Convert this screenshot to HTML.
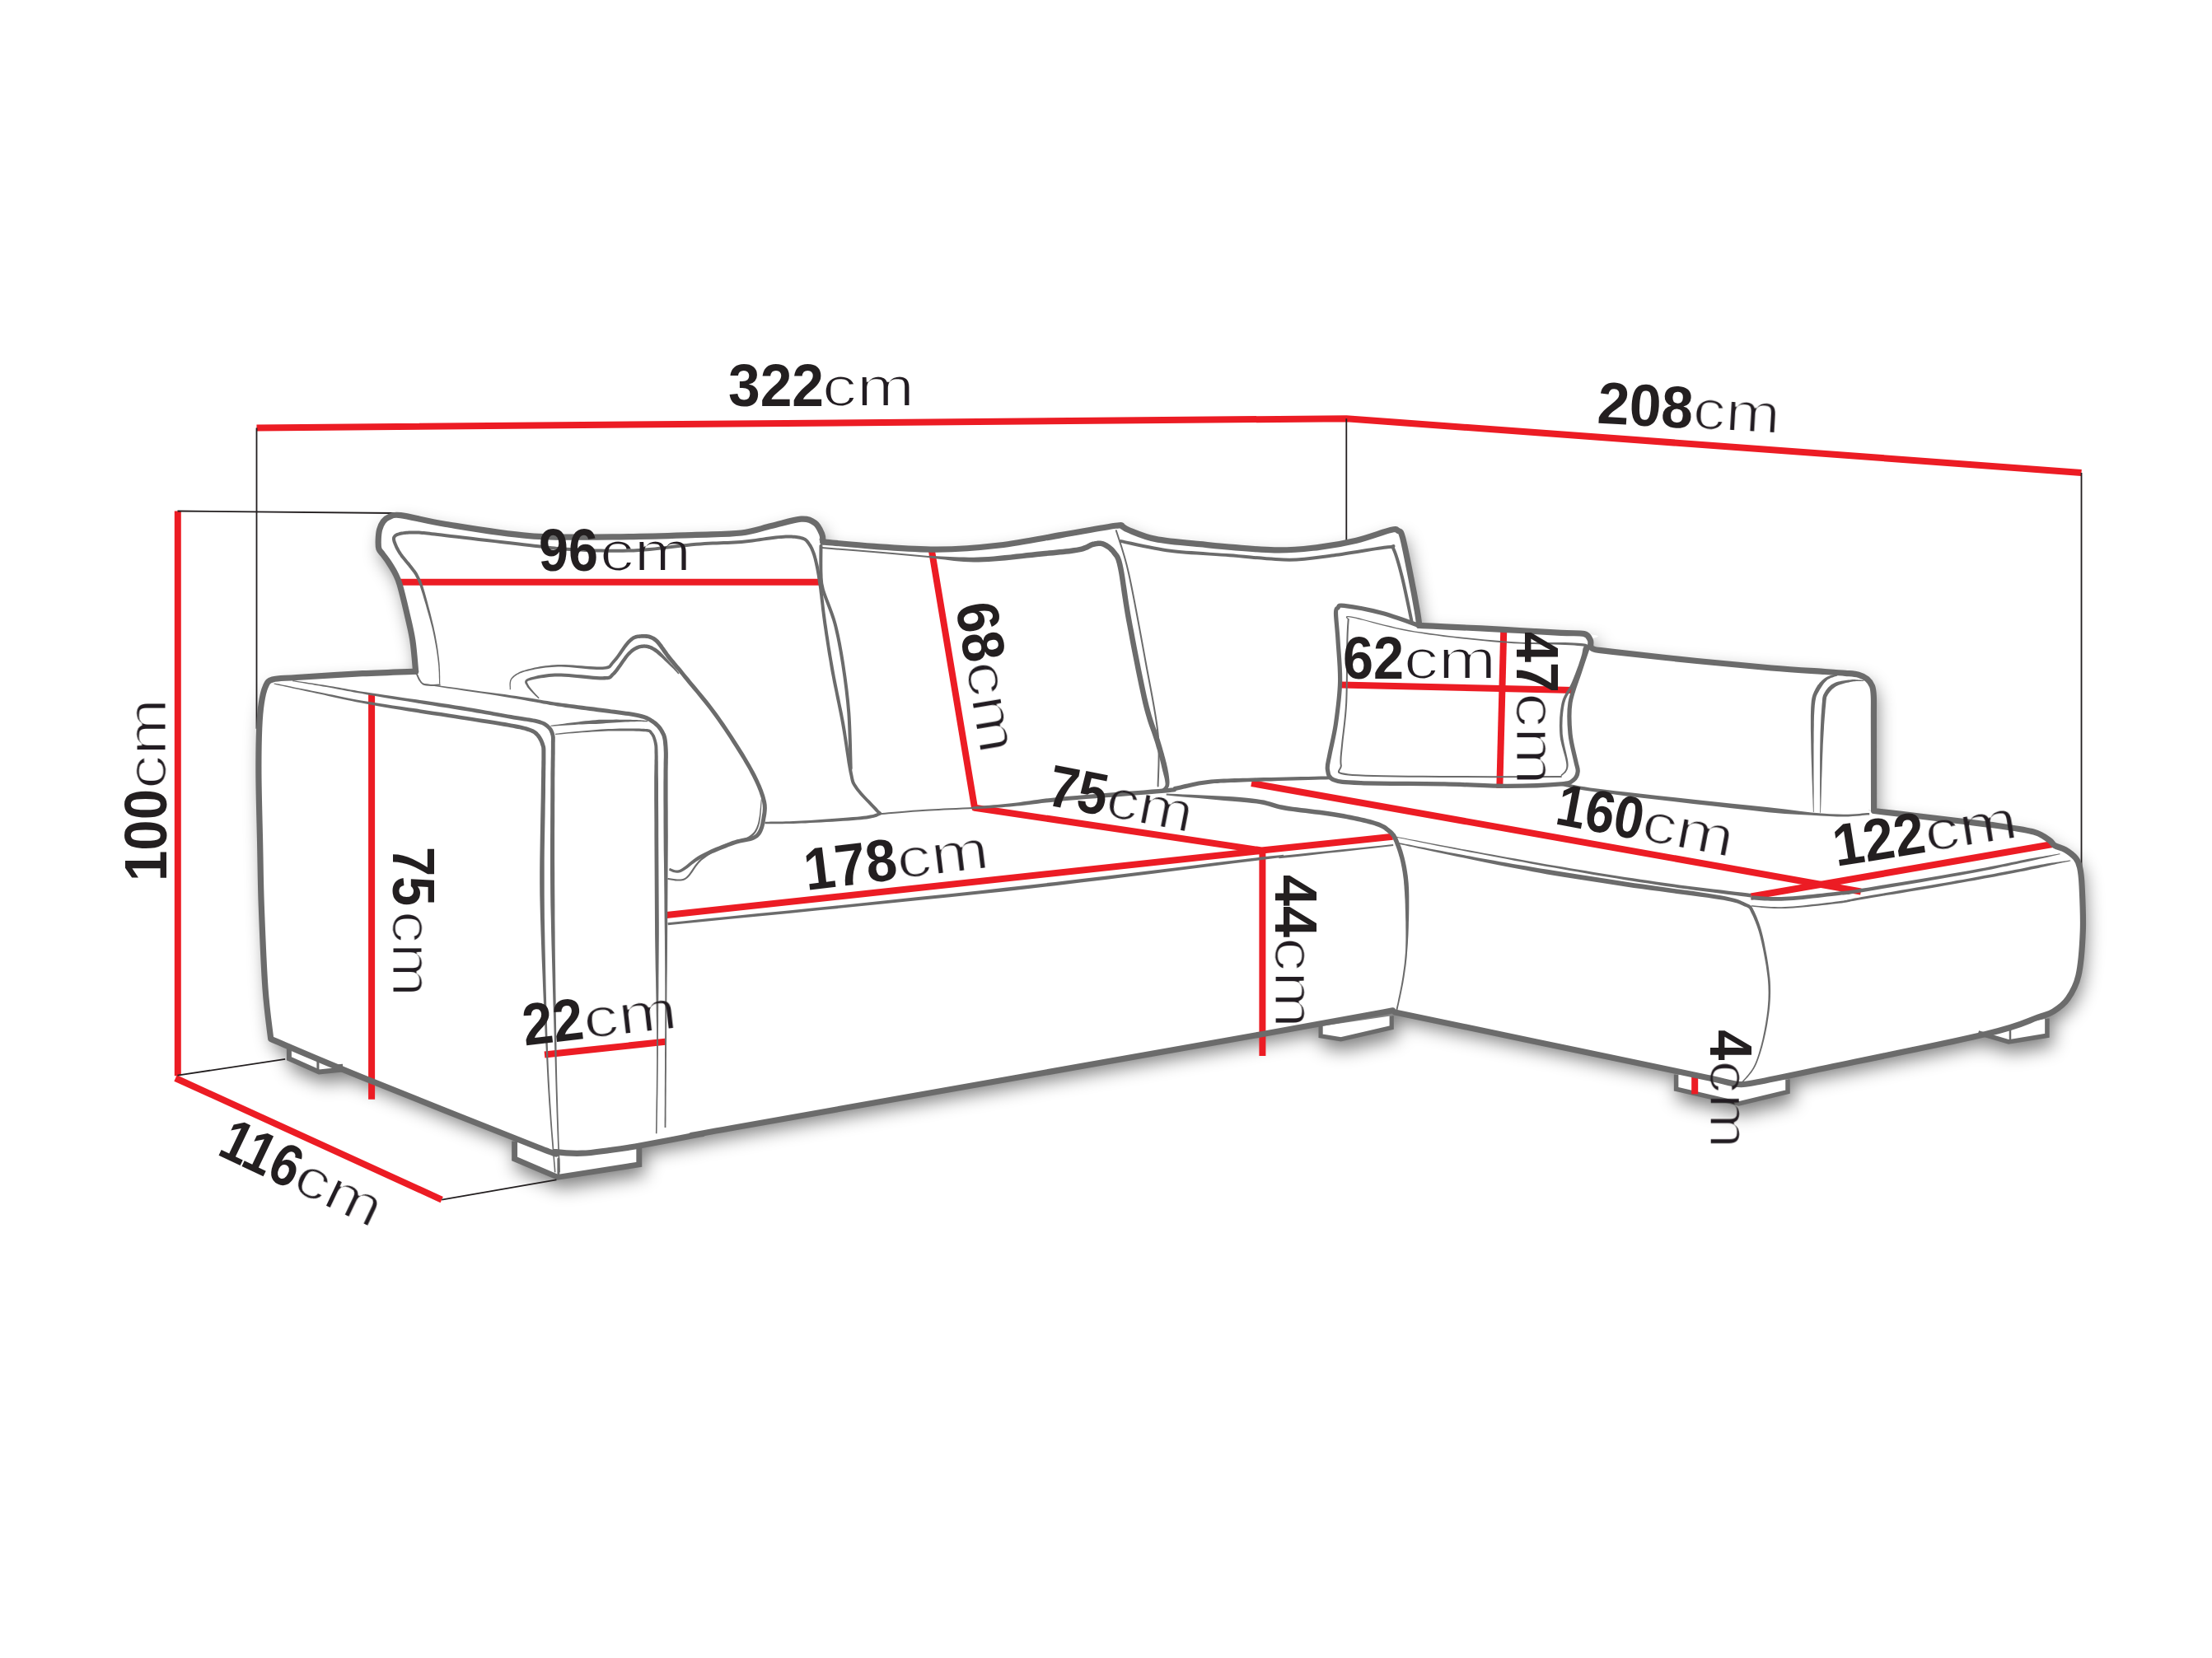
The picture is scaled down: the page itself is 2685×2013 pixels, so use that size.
<!DOCTYPE html>
<html><head><meta charset="utf-8"><style>
html,body{margin:0;padding:0;background:#fff;width:2685px;height:2013px;overflow:hidden}
svg{display:block}
text{font-family:"Liberation Sans",sans-serif;fill:#231f20}
line,polyline{fill:none;stroke-linejoin:round}
path{stroke-linejoin:round}
path{stroke-linecap:round}
</style></head><body>
<svg width="2685" height="2013" viewBox="0 0 2685 2013">
<rect width="2685" height="2013" fill="#fff"/>
<defs><filter id="thin" x="-5%" y="-5%" width="110%" height="110%"><feMorphology operator="erode" radius="0.70"/></filter></defs>
<defs><filter id="sh" x="-10%" y="-10%" width="120%" height="130%"><feGaussianBlur in="SourceAlpha" stdDeviation="11.0"/><feOffset dx="4.0" dy="10.0" result="b"/><feComponentTransfer><feFuncA type="linear" slope="0.50"/></feComponentTransfer></filter></defs>
<g filter="url(#sh)"><path d="M360.0 822.5 C355.1 822.9 337.1 823.2 330.8 825.0 C324.5 826.8 324.6 828.7 322.3 833.5 C320.1 838.3 318.6 845.3 317.3 853.8 C316.0 862.2 315.3 870.1 314.7 884.2 C314.1 898.3 313.8 915.1 313.9 938.2 C314.0 961.3 315.0 995.6 315.6 1022.6 C316.2 1049.6 316.2 1070.4 317.3 1100.0 C318.4 1129.6 320.1 1173.1 322.0 1200.0 C323.9 1226.9 327.6 1251.2 328.7 1261.4 C347.2 1269.2 385.9 1286.2 440.0 1308.1 C494.1 1330.0 613.9 1377.9 653.0 1393.0 C692.1 1408.1 665.8 1397.4 674.7 1398.6 C683.6 1399.8 695.4 1400.5 706.3 1400.2 C717.2 1399.9 727.9 1398.1 740.0 1396.5 C752.1 1394.9 760.8 1393.8 779.1 1390.5 C797.4 1387.2 829.9 1380.8 850.0 1377.0 C870.1 1373.2 786.5 1387.7 900.0 1367.5 C1013.5 1347.3 1399.1 1278.8 1531.3 1255.7 C1663.5 1232.6 1666.2 1233.4 1693.2 1228.9 C1749.8 1240.8 1968.1 1286.5 2032.6 1300.0 C2097.1 1313.5 2067.1 1307.2 2080.0 1310.0 C2092.9 1312.8 2101.3 1315.8 2110.0 1316.5 C2118.7 1317.2 2117.0 1316.8 2132.0 1314.0 C2147.0 1311.2 2153.6 1309.8 2200.0 1300.0 C2246.4 1290.2 2364.8 1266.2 2410.4 1255.4 C2456.0 1244.6 2460.0 1239.8 2473.7 1235.2 C2487.4 1230.6 2486.5 1231.7 2492.5 1228.0 C2498.5 1224.3 2504.8 1220.0 2509.9 1212.8 C2515.0 1205.5 2519.8 1198.2 2522.9 1184.5 C2526.0 1170.8 2527.6 1148.4 2528.3 1130.3 C2529.0 1112.2 2527.7 1088.8 2527.1 1075.9 C2526.5 1063.1 2525.9 1058.9 2524.6 1053.2 C2523.3 1047.5 2522.5 1045.4 2519.5 1041.8 C2516.5 1038.2 2511.0 1034.1 2506.8 1031.6 C2502.6 1029.1 2497.4 1028.5 2494.2 1026.6 C2491.0 1024.7 2492.0 1023.0 2487.8 1020.3 C2483.6 1017.5 2479.4 1013.1 2468.9 1010.1 C2458.4 1007.1 2456.1 1006.6 2424.6 1002.5 C2393.1 998.4 2305.0 988.6 2280.0 985.5 C2255.0 982.4 2275.5 984.3 2274.6 984.1 C2274.6 963.4 2274.7 884.0 2274.6 860.0 C2274.5 836.0 2274.9 845.7 2274.0 840.0 C2273.1 834.3 2271.7 829.5 2269.0 826.0 C2266.3 822.5 2262.8 820.7 2258.0 819.0 C2253.2 817.3 2273.0 819.0 2240.0 816.0 C2207.0 813.0 2107.4 805.4 2060.0 801.3 C2012.6 797.1 1976.9 793.4 1955.7 791.1 C1934.5 788.8 1937.1 789.6 1932.9 787.3 C1928.7 785.0 1932.1 780.2 1930.4 777.2 C1928.7 774.2 1957.4 772.6 1922.8 769.6 C1888.2 766.6 1756.1 761.2 1722.8 759.5 C1722.4 756.5 1722.0 751.5 1720.3 741.8 C1718.6 732.1 1715.7 716.2 1712.7 701.3 C1709.7 686.4 1705.1 662.0 1702.5 652.5 C1699.9 643.0 1699.5 645.9 1697.1 644.4 C1694.7 642.9 1696.4 641.5 1688.0 643.5 C1679.6 645.5 1661.0 652.7 1646.5 656.2 C1632.0 659.7 1617.8 662.3 1601.2 664.3 C1584.6 666.2 1571.1 668.5 1547.0 667.9 C1522.9 667.3 1480.7 663.0 1456.6 660.7 C1432.5 658.5 1416.7 657.3 1402.3 654.4 C1387.9 651.5 1376.7 646.1 1370.0 643.5 C1363.3 640.9 1364.7 639.9 1362.0 639.0 C1359.3 638.1 1366.2 636.6 1354.0 638.3 C1341.8 640.0 1312.6 645.4 1289.1 649.4 C1265.6 653.4 1238.5 659.0 1213.2 662.0 C1187.9 665.0 1162.5 666.9 1137.2 667.1 C1111.9 667.3 1084.3 664.8 1061.3 663.3 C1038.2 661.8 1009.5 660.4 998.9 657.9 C988.3 655.4 999.3 652.1 997.7 648.3 C996.1 644.5 993.5 638.0 989.3 635.0 C985.1 632.0 981.2 629.6 972.4 630.2 C963.5 630.8 948.3 635.8 936.2 638.6 C924.1 641.4 915.2 645.2 900.0 647.0 C884.8 648.8 871.0 648.6 845.0 649.4 C819.0 650.2 777.5 651.7 743.8 651.9 C710.0 652.1 676.2 653.2 642.5 650.6 C608.8 648.0 567.3 640.7 541.3 636.5 C515.3 632.3 498.0 627.0 486.4 625.6 C474.8 624.2 475.4 626.6 471.9 627.9 C468.4 629.2 467.1 630.7 465.2 633.2 C463.3 635.8 461.6 639.3 460.6 643.2 C459.6 647.1 459.3 652.5 459.2 656.4 C459.1 660.3 459.0 663.6 459.9 666.4 C460.8 669.2 462.6 670.2 464.6 673.0 C466.6 675.8 469.4 679.1 471.9 683.0 C474.4 686.9 477.6 691.9 479.8 696.3 C482.0 700.7 482.9 701.9 485.1 709.5 C487.3 717.1 490.6 730.5 493.2 741.8 C495.8 753.1 498.9 765.0 500.8 777.2 C502.7 789.4 504.0 808.9 504.6 815.2 C493.8 815.6 464.1 816.5 440.0 817.7 C415.9 818.9 373.3 821.7 360.0 822.5 Z" fill="#000"/><polygon points="350.9,1271.0 350.9,1285.3 387.3,1301.5 413.3,1298.8 413.0,1292.0" fill="#000" stroke="#000" stroke-width="6"/><polygon points="624.6,1385.5 624.6,1406.9 677.0,1429.3 775.8,1413.8 775.8,1389.8" fill="#000" stroke="#000" stroke-width="6"/><polygon points="1603.1,1246.0 1603.1,1257.8 1627.7,1261.9 1689.2,1247.6 1689.2,1233.2" fill="#000" stroke="#000" stroke-width="6"/><polygon points="2034.6,1304.6 2034.6,1322.3 2110.7,1340.0 2170.0,1325.7 2170.0,1310.5" fill="#000" stroke="#000" stroke-width="6"/><polygon points="2401.3,1254.0 2438.2,1264.9 2484.9,1257.3 2484.9,1236.6" fill="#000" stroke="#000" stroke-width="6"/></g>
<path d="M360.0 822.5 C355.1 822.9 337.1 823.2 330.8 825.0 C324.5 826.8 324.6 828.7 322.3 833.5 C320.1 838.3 318.6 845.3 317.3 853.8 C316.0 862.2 315.3 870.1 314.7 884.2 C314.1 898.3 313.8 915.1 313.9 938.2 C314.0 961.3 315.0 995.6 315.6 1022.6 C316.2 1049.6 316.2 1070.4 317.3 1100.0 C318.4 1129.6 320.1 1173.1 322.0 1200.0 C323.9 1226.9 327.6 1251.2 328.7 1261.4 C347.2 1269.2 385.9 1286.2 440.0 1308.1 C494.1 1330.0 613.9 1377.9 653.0 1393.0 C692.1 1408.1 665.8 1397.4 674.7 1398.6 C683.6 1399.8 695.4 1400.5 706.3 1400.2 C717.2 1399.9 727.9 1398.1 740.0 1396.5 C752.1 1394.9 760.8 1393.8 779.1 1390.5 C797.4 1387.2 829.9 1380.8 850.0 1377.0 C870.1 1373.2 786.5 1387.7 900.0 1367.5 C1013.5 1347.3 1399.1 1278.8 1531.3 1255.7 C1663.5 1232.6 1666.2 1233.4 1693.2 1228.9 C1749.8 1240.8 1968.1 1286.5 2032.6 1300.0 C2097.1 1313.5 2067.1 1307.2 2080.0 1310.0 C2092.9 1312.8 2101.3 1315.8 2110.0 1316.5 C2118.7 1317.2 2117.0 1316.8 2132.0 1314.0 C2147.0 1311.2 2153.6 1309.8 2200.0 1300.0 C2246.4 1290.2 2364.8 1266.2 2410.4 1255.4 C2456.0 1244.6 2460.0 1239.8 2473.7 1235.2 C2487.4 1230.6 2486.5 1231.7 2492.5 1228.0 C2498.5 1224.3 2504.8 1220.0 2509.9 1212.8 C2515.0 1205.5 2519.8 1198.2 2522.9 1184.5 C2526.0 1170.8 2527.6 1148.4 2528.3 1130.3 C2529.0 1112.2 2527.7 1088.8 2527.1 1075.9 C2526.5 1063.1 2525.9 1058.9 2524.6 1053.2 C2523.3 1047.5 2522.5 1045.4 2519.5 1041.8 C2516.5 1038.2 2511.0 1034.1 2506.8 1031.6 C2502.6 1029.1 2497.4 1028.5 2494.2 1026.6 C2491.0 1024.7 2492.0 1023.0 2487.8 1020.3 C2483.6 1017.5 2479.4 1013.1 2468.9 1010.1 C2458.4 1007.1 2456.1 1006.6 2424.6 1002.5 C2393.1 998.4 2305.0 988.6 2280.0 985.5 C2255.0 982.4 2275.5 984.3 2274.6 984.1 C2274.6 963.4 2274.7 884.0 2274.6 860.0 C2274.5 836.0 2274.9 845.7 2274.0 840.0 C2273.1 834.3 2271.7 829.5 2269.0 826.0 C2266.3 822.5 2262.8 820.7 2258.0 819.0 C2253.2 817.3 2273.0 819.0 2240.0 816.0 C2207.0 813.0 2107.4 805.4 2060.0 801.3 C2012.6 797.1 1976.9 793.4 1955.7 791.1 C1934.5 788.8 1937.1 789.6 1932.9 787.3 C1928.7 785.0 1932.1 780.2 1930.4 777.2 C1928.7 774.2 1957.4 772.6 1922.8 769.6 C1888.2 766.6 1756.1 761.2 1722.8 759.5 C1722.4 756.5 1722.0 751.5 1720.3 741.8 C1718.6 732.1 1715.7 716.2 1712.7 701.3 C1709.7 686.4 1705.1 662.0 1702.5 652.5 C1699.9 643.0 1699.5 645.9 1697.1 644.4 C1694.7 642.9 1696.4 641.5 1688.0 643.5 C1679.6 645.5 1661.0 652.7 1646.5 656.2 C1632.0 659.7 1617.8 662.3 1601.2 664.3 C1584.6 666.2 1571.1 668.5 1547.0 667.9 C1522.9 667.3 1480.7 663.0 1456.6 660.7 C1432.5 658.5 1416.7 657.3 1402.3 654.4 C1387.9 651.5 1376.7 646.1 1370.0 643.5 C1363.3 640.9 1364.7 639.9 1362.0 639.0 C1359.3 638.1 1366.2 636.6 1354.0 638.3 C1341.8 640.0 1312.6 645.4 1289.1 649.4 C1265.6 653.4 1238.5 659.0 1213.2 662.0 C1187.9 665.0 1162.5 666.9 1137.2 667.1 C1111.9 667.3 1084.3 664.8 1061.3 663.3 C1038.2 661.8 1009.5 660.4 998.9 657.9 C988.3 655.4 999.3 652.1 997.7 648.3 C996.1 644.5 993.5 638.0 989.3 635.0 C985.1 632.0 981.2 629.6 972.4 630.2 C963.5 630.8 948.3 635.8 936.2 638.6 C924.1 641.4 915.2 645.2 900.0 647.0 C884.8 648.8 871.0 648.6 845.0 649.4 C819.0 650.2 777.5 651.7 743.8 651.9 C710.0 652.1 676.2 653.2 642.5 650.6 C608.8 648.0 567.3 640.7 541.3 636.5 C515.3 632.3 498.0 627.0 486.4 625.6 C474.8 624.2 475.4 626.6 471.9 627.9 C468.4 629.2 467.1 630.7 465.2 633.2 C463.3 635.8 461.6 639.3 460.6 643.2 C459.6 647.1 459.3 652.5 459.2 656.4 C459.1 660.3 459.0 663.6 459.9 666.4 C460.8 669.2 462.6 670.2 464.6 673.0 C466.6 675.8 469.4 679.1 471.9 683.0 C474.4 686.9 477.6 691.9 479.8 696.3 C482.0 700.7 482.9 701.9 485.1 709.5 C487.3 717.1 490.6 730.5 493.2 741.8 C495.8 753.1 498.9 765.0 500.8 777.2 C502.7 789.4 504.0 808.9 504.6 815.2 C493.8 815.6 464.1 816.5 440.0 817.7 C415.9 818.9 373.3 821.7 360.0 822.5 Z" fill="#fff"/>
<polyline points="350.9,1271.0 350.9,1285.3 387.3,1301.5 413.3,1298.8 413.0,1292.0" stroke="#6b6b6b" stroke-width="6.0" style="fill:#fff;stroke-linejoin:miter"/>
<polyline points="624.6,1385.5 624.6,1406.9 677.0,1429.3 775.8,1413.8 775.8,1389.8" stroke="#6b6b6b" stroke-width="6.9" style="fill:#fff;stroke-linejoin:miter"/>
<polyline points="1603.1,1246.0 1603.1,1257.8 1627.7,1261.9 1689.2,1247.6 1689.2,1233.2" stroke="#6b6b6b" stroke-width="5.2" style="fill:#fff;stroke-linejoin:miter"/>
<polyline points="2034.6,1304.6 2034.6,1322.3 2110.7,1340.0 2170.0,1325.7 2170.0,1310.5" stroke="#6b6b6b" stroke-width="5.5" style="fill:#fff;stroke-linejoin:miter"/>
<polyline points="2401.3,1254.0 2438.2,1264.9 2484.9,1257.3 2484.9,1236.6" stroke="#6b6b6b" stroke-width="5.5" style="fill:#fff;stroke-linejoin:miter"/>
<path d="M385.9 1289.6 L385.9 1300.5" fill="none" stroke="#6b6b6b" stroke-width="3.00"/>
<path d="M677.9 1407.0 L677.9 1425.0" fill="none" stroke="#6b6b6b" stroke-width="3.00"/>
<path d="M2440.0 1250.0 L2440.0 1262.0" fill="none" stroke="#6b6b6b" stroke-width="2.50"/>
<polyline points="311.5,519.4 1634.3,508.2 2526.5,573.9" stroke="#ec1c24" stroke-width="8.00"/>
<line x1="215.8" y1="620.5" x2="215.8" y2="1306.3" stroke="#ec1c24" stroke-width="8.00" style="stroke-linecap:butt"/>
<line x1="213.0" y1="1309.0" x2="536.2" y2="1456.6" stroke="#ec1c24" stroke-width="8.00" style="stroke-linecap:butt"/>
<line x1="484.3" y1="706.8" x2="995.7" y2="706.8" stroke="#ec1c24" stroke-width="8.00" style="stroke-linecap:butt"/>
<line x1="451.1" y1="842.0" x2="451.1" y2="1334.7" stroke="#ec1c24" stroke-width="8.00" style="stroke-linecap:butt"/>
<line x1="661.0" y1="1280.4" x2="807.5" y2="1264.8" stroke="#ec1c24" stroke-width="8.00" style="stroke-linecap:butt"/>
<line x1="809.3" y1="1111.0" x2="1531.3" y2="1033.0" stroke="#ec1c24" stroke-width="8.00" style="stroke-linecap:butt"/>
<polyline points="1130.9,668.4 1183.0,980.7 1531.3,1032.5 1690.5,1015.8" stroke="#ec1c24" stroke-width="8.00"/>
<line x1="1532.4" y1="1032.5" x2="1532.4" y2="1282.1" stroke="#ec1c24" stroke-width="8.00" style="stroke-linecap:butt"/>
<line x1="1627.8" y1="831.6" x2="1910.1" y2="838.0" stroke="#ec1c24" stroke-width="8.00" style="stroke-linecap:butt"/>
<line x1="1825.3" y1="763.3" x2="1820.3" y2="957.0" stroke="#ec1c24" stroke-width="8.00" style="stroke-linecap:butt"/>
<line x1="1519.0" y1="951.0" x2="2258.8" y2="1082.5" stroke="#ec1c24" stroke-width="8.00" style="stroke-linecap:butt"/>
<line x1="2125.4" y1="1088.5" x2="2492.9" y2="1024.8" stroke="#ec1c24" stroke-width="8.00" style="stroke-linecap:butt"/>
<line x1="2057.2" y1="1305.8" x2="2057.2" y2="1328.4" stroke="#ec1c24" stroke-width="8.00" style="stroke-linecap:butt"/>
<line x1="311.5" y1="519.4" x2="311.5" y2="884.8" stroke="#231f20" stroke-width="1.80" style="stroke-linecap:butt"/>
<line x1="215.5" y1="620.5" x2="478.0" y2="623.0" stroke="#231f20" stroke-width="1.80" style="stroke-linecap:butt"/>
<line x1="1634.3" y1="508.2" x2="1634.3" y2="656.9" stroke="#231f20" stroke-width="1.80" style="stroke-linecap:butt"/>
<line x1="2526.5" y1="573.9" x2="2526.5" y2="1054.0" stroke="#231f20" stroke-width="1.80" style="stroke-linecap:butt"/>
<line x1="215.5" y1="1305.7" x2="346.2" y2="1285.8" stroke="#231f20" stroke-width="1.80" style="stroke-linecap:butt"/>
<line x1="536.2" y1="1456.6" x2="675.5" y2="1432.3" stroke="#231f20" stroke-width="1.80" style="stroke-linecap:butt"/>
<path d="M504.6 815.2 C493.8 815.6 464.1 816.5 440.0 817.7 C415.9 818.9 378.2 821.3 360.0 822.5 C341.8 823.7 337.1 823.2 330.8 825.0 C324.5 826.8 324.6 828.7 322.3 833.5 C320.1 838.3 318.6 845.3 317.3 853.8 C316.0 862.2 315.3 870.1 314.7 884.2 C314.1 898.3 313.8 915.1 313.9 938.2 C314.0 961.3 315.0 995.6 315.6 1022.6 C316.2 1049.6 316.2 1070.4 317.3 1100.0 C318.4 1129.6 320.1 1173.1 322.0 1200.0 C323.9 1226.9 327.6 1251.2 328.7 1261.4 C347.2 1269.2 385.9 1286.2 440.0 1308.1 C494.1 1330.0 613.9 1377.9 653.0 1393.0 C692.1 1408.1 665.8 1397.4 674.7 1398.6 C683.6 1399.8 695.4 1400.5 706.3 1400.2 C717.2 1399.9 727.9 1398.1 740.0 1396.5 C752.1 1394.9 760.8 1393.8 779.1 1390.5 C797.4 1387.2 829.9 1380.8 850.0 1377.0 C870.1 1373.2 786.5 1387.7 900.0 1367.5 C1013.5 1347.3 1399.5 1279.2 1531.3 1255.7 C1663.0 1232.2 1664.0 1231.6 1690.5 1226.8" fill="none" stroke="#6b6b6b" stroke-width="7.20"/>
<path d="M513.3 831.0 L518.6 831.8 L525.5 832.8 L533.6 834.0 L542.8 835.4 L552.7 836.8 L563.0 838.4 L573.6 839.9 L584.0 841.6 L594.2 843.1 L603.7 844.6 L612.3 846.0 L619.8 847.2 L626.2 848.3 L632.1 849.3 L637.4 850.3 L642.4 851.2 L647.0 852.0 L651.3 852.8 L655.4 853.6 L659.5 854.4 L663.6 855.1 L667.7 855.9 L672.1 856.6 L676.7 857.4 L681.5 858.1 L686.4 858.9 L691.3 859.6 L696.3 860.3 L701.3 861.0 L706.2 861.7 L711.1 862.3 L715.9 863.0 L720.6 863.6 L725.1 864.2 L729.4 864.7 L733.6 865.3 L737.6 865.8 L741.5 866.3 L745.3 866.8 L749.0 867.3 L752.6 867.8 L756.0 868.2 L759.3 868.7 L762.5 869.1 L765.4 869.6 L768.2 870.0 L770.9 870.5 L773.3 871.0 L775.5 871.5 L777.4 871.9 L779.1 872.4 L780.6 872.8 L781.9 873.3 L783.1 873.7 L784.2 874.2 L785.3 874.7 L786.3 875.2 L787.3 875.8 L788.4 876.5 L789.5 877.2 L790.7 878.0 L791.8 878.8 L792.9 879.6 L794.0 880.5 L795.0 881.4 L796.0 882.3 L797.0 883.3 L797.9 884.3 L798.8 885.4 L799.6 886.4 L800.3 887.6 L801.0 888.8 L801.6 890.0 L802.2 891.1 L802.7 892.1 L803.2 893.1 L803.6 894.1 L803.9 895.1 L804.2 896.4 L804.5 897.8 L804.8 899.5 L805.0 901.5 L805.2 903.9 L805.5 906.7 L805.6 909.4 L805.7 911.9 L805.8 914.3 L805.8 916.7 L805.8 919.4 L805.7 922.5 L805.6 926.2 L805.6 930.7 L805.5 936.2 L805.5 942.8 L805.4 950.6 L805.4 960.0 L805.4 971.3 L805.5 984.5 L805.5 999.3 L805.6 1015.5 L805.7 1032.5 L806.0 1050.2 L806.2 1068.2 L806.4 1086.1 L806.5 1103.5 L806.7 1120.2 L806.9 1135.8 L807.0 1150.0 L807.1 1163.1 L807.2 1175.6 L807.2 1187.7 L807.3 1199.3 L807.3 1210.5 L807.3 1221.3 L807.3 1231.8 L807.2 1241.9 L807.2 1251.8 L807.1 1261.4 L807.1 1270.8 L807.0 1280.0 L807.0 1289.1 L807.0 1298.2 L806.9 1307.2 L806.9 1316.0 L806.8 1324.5 L806.8 1332.6 L806.8 1340.3 L806.7 1347.4 L806.7 1354.0 L806.6 1359.8 L806.6 1364.8 L806.6 1369.0 L808.4 1369.0 L808.4 1364.8 L808.5 1359.8 L808.5 1354.0 L808.5 1347.4 L808.6 1340.3 L808.6 1332.6 L808.7 1324.5 L808.7 1316.0 L808.8 1307.2 L808.9 1298.2 L808.9 1289.1 L809.0 1280.0 L809.0 1270.8 L809.1 1261.4 L809.1 1251.8 L809.2 1241.9 L809.2 1231.8 L809.3 1221.3 L809.4 1210.5 L809.5 1199.3 L809.6 1187.7 L809.8 1175.6 L809.9 1163.1 L810.0 1150.0 L810.1 1135.8 L810.2 1120.2 L810.3 1103.5 L810.4 1086.1 L810.5 1068.2 L810.6 1050.2 L810.7 1032.5 L810.8 1015.4 L810.7 999.3 L810.7 984.5 L810.6 971.2 L810.6 960.0 L810.6 950.7 L810.6 942.8 L810.6 936.2 L810.7 930.8 L810.8 926.3 L810.8 922.6 L810.9 919.5 L810.9 916.7 L810.9 914.2 L810.8 911.8 L810.7 909.2 L810.5 906.3 L810.3 903.5 L810.1 901.0 L809.8 898.8 L809.5 896.9 L809.2 895.2 L808.8 893.7 L808.4 892.4 L807.9 891.1 L807.3 889.9 L806.7 888.7 L806.1 887.5 L805.4 886.2 L804.6 884.9 L803.7 883.5 L802.8 882.2 L801.8 881.0 L800.7 879.8 L799.6 878.7 L798.4 877.6 L797.3 876.6 L796.0 875.6 L794.8 874.7 L793.6 873.8 L792.3 873.0 L791.1 872.2 L789.9 871.5 L788.7 870.8 L787.5 870.2 L786.3 869.6 L785.0 869.0 L783.6 868.5 L782.1 868.0 L780.5 867.5 L778.6 867.0 L776.6 866.5 L774.3 866.0 L771.8 865.5 L769.1 865.0 L766.2 864.6 L763.2 864.1 L760.0 863.7 L756.7 863.2 L753.2 862.8 L749.6 862.3 L745.9 861.8 L742.1 861.4 L738.2 860.8 L734.2 860.3 L730.1 859.8 L725.7 859.2 L721.2 858.6 L716.5 858.0 L711.7 857.4 L706.8 856.8 L701.9 856.2 L696.9 855.6 L691.9 855.0 L687.0 854.3 L682.1 853.7 L677.3 853.0 L672.7 852.4 L668.4 851.7 L664.3 851.1 L660.2 850.4 L656.1 849.7 L651.9 849.1 L647.6 848.3 L643.0 847.6 L638.0 846.8 L632.6 846.0 L626.7 845.1 L620.2 844.2 L612.7 843.1 L604.1 842.0 L594.5 840.7 L584.3 839.4 L573.8 838.0 L563.3 836.5 L552.9 835.1 L543.0 833.8 L533.8 832.6 L525.7 831.5 L518.8 830.5 L513.5 829.8 Z" fill="#6b6b6b" stroke="none"/>
<path d="M332.5 830.6 L335.2 831.2 L338.5 831.9 L342.5 832.8 L346.9 833.7 L351.7 834.8 L356.8 835.9 L362.1 837.1 L367.6 838.2 L373.1 839.4 L378.5 840.6 L383.8 841.7 L388.9 842.8 L393.7 843.8 L398.4 844.9 L402.9 845.9 L407.4 846.9 L412.0 847.9 L416.7 848.9 L421.5 850.0 L426.6 851.0 L432.1 852.2 L437.9 853.3 L444.2 854.6 L451.0 855.8 L458.6 857.2 L467.0 858.7 L476.0 860.2 L485.6 861.8 L495.4 863.5 L505.4 865.1 L515.5 866.7 L525.3 868.2 L534.8 869.6 L543.8 871.0 L552.1 872.3 L559.6 873.5 L566.5 874.6 L572.9 875.6 L578.9 876.5 L584.6 877.4 L589.9 878.3 L594.9 879.1 L599.7 879.8 L604.1 880.5 L608.3 881.2 L612.3 881.9 L616.0 882.5 L619.6 883.2 L622.8 883.8 L625.8 884.4 L628.3 884.9 L630.6 885.3 L632.6 885.8 L634.4 886.2 L636.0 886.6 L637.5 887.0 L638.9 887.4 L640.2 887.9 L641.5 888.3 L642.8 888.8 L644.1 889.3 L645.1 889.7 L646.0 890.2 L646.8 890.6 L647.5 891.0 L648.1 891.5 L648.6 891.9 L649.1 892.4 L649.6 892.9 L650.2 893.4 L650.7 894.1 L651.3 894.8 L651.8 895.5 L652.4 896.2 L652.9 897.0 L653.4 897.9 L653.9 898.8 L654.3 899.7 L654.8 900.6 L655.2 901.6 L655.6 902.5 L655.9 903.5 L656.2 904.4 L656.5 905.3 L656.8 906.2 L657.0 906.8 L657.1 907.3 L657.2 907.7 L657.3 908.0 L657.3 908.5 L657.3 909.0 L657.3 909.8 L657.4 910.9 L657.4 912.2 L657.4 913.9 L657.4 916.0 L657.4 918.2 L657.4 920.3 L657.4 922.4 L657.3 924.7 L657.3 927.1 L657.3 929.9 L657.2 933.2 L657.1 937.0 L657.1 941.5 L657.0 946.7 L656.9 952.8 L656.8 960.0 L656.7 968.1 L656.5 977.0 L656.3 986.8 L656.1 997.3 L655.9 1008.4 L655.7 1020.2 L655.5 1032.5 L655.3 1045.3 L655.2 1058.5 L655.2 1072.1 L655.3 1086.0 L655.6 1100.0 L656.0 1114.9 L656.5 1130.8 L657.1 1147.6 L657.7 1165.1 L658.5 1183.0 L659.2 1201.1 L660.0 1219.1 L660.8 1236.8 L661.6 1254.0 L662.5 1270.5 L663.3 1285.9 L664.0 1300.0 L664.7 1313.4 L665.5 1326.5 L666.3 1339.2 L667.2 1351.4 L668.0 1363.1 L668.9 1374.2 L669.7 1384.6 L670.5 1394.2 L671.3 1403.0 L671.9 1410.8 L672.5 1417.6 L672.9 1423.4 L674.5 1423.2 L674.1 1417.5 L673.5 1410.7 L672.9 1402.9 L672.2 1394.1 L671.5 1384.5 L670.6 1374.1 L669.8 1363.0 L669.0 1351.3 L668.2 1339.0 L667.4 1326.4 L666.7 1313.3 L666.0 1300.0 L665.4 1285.8 L664.9 1270.4 L664.3 1253.9 L663.8 1236.7 L663.2 1219.0 L662.7 1201.0 L662.3 1182.9 L661.9 1165.0 L661.5 1147.5 L661.2 1130.7 L660.9 1114.8 L660.8 1100.0 L660.7 1085.9 L660.7 1072.1 L660.7 1058.5 L660.7 1045.4 L660.8 1032.6 L661.0 1020.3 L661.2 1008.5 L661.4 997.4 L661.6 986.9 L661.7 977.1 L661.9 968.2 L662.0 960.0 L662.0 952.9 L662.1 946.8 L662.2 941.5 L662.2 937.1 L662.3 933.3 L662.3 930.0 L662.4 927.2 L662.4 924.7 L662.4 922.5 L662.4 920.3 L662.4 918.2 L662.4 916.0 L662.4 913.9 L662.4 912.2 L662.4 910.8 L662.4 909.7 L662.3 908.8 L662.3 908.1 L662.2 907.4 L662.1 906.7 L661.9 906.1 L661.8 905.4 L661.5 904.7 L661.3 903.9 L661.0 902.9 L660.6 901.8 L660.2 900.7 L659.8 899.7 L659.3 898.6 L658.8 897.5 L658.3 896.5 L657.7 895.4 L657.1 894.4 L656.5 893.4 L655.8 892.5 L655.1 891.6 L654.5 890.9 L653.8 890.2 L653.2 889.5 L652.6 888.8 L651.8 888.2 L651.1 887.5 L650.2 886.9 L649.3 886.4 L648.3 885.8 L647.2 885.3 L645.9 884.7 L644.6 884.2 L643.2 883.7 L641.8 883.2 L640.4 882.8 L638.9 882.3 L637.3 881.9 L635.6 881.5 L633.7 881.0 L631.6 880.6 L629.3 880.1 L626.7 879.6 L623.7 879.0 L620.4 878.4 L616.8 877.8 L613.1 877.1 L609.1 876.5 L604.9 875.8 L600.4 875.1 L595.7 874.3 L590.7 873.6 L585.3 872.7 L579.6 871.9 L573.6 870.9 L567.2 870.0 L560.4 868.9 L552.9 867.7 L544.5 866.5 L535.5 865.1 L526.0 863.7 L516.1 862.2 L506.1 860.6 L496.1 859.2 L486.2 857.8 L476.7 856.4 L467.6 855.0 L459.2 853.8 L451.6 852.6 L444.7 851.5 L438.4 850.4 L432.6 849.4 L427.2 848.4 L422.1 847.4 L417.2 846.4 L412.5 845.5 L407.9 844.6 L403.4 843.6 L398.8 842.7 L394.2 841.7 L389.3 840.8 L384.2 839.8 L378.9 838.7 L373.4 837.6 L367.9 836.5 L362.5 835.4 L357.1 834.4 L352.0 833.3 L347.2 832.3 L342.8 831.4 L338.8 830.6 L335.4 830.0 L332.7 829.4 Z" fill="#6b6b6b" stroke="none"/>
<path d="M355.1 827.2 L357.3 827.6 L360.0 828.0 L363.1 828.5 L366.6 829.1 L370.4 829.7 L374.5 830.4 L378.8 831.1 L383.1 831.9 L387.5 832.6 L391.9 833.4 L396.1 834.1 L400.2 834.8 L404.1 835.5 L407.7 836.2 L411.2 836.9 L414.6 837.5 L418.1 838.2 L421.7 838.9 L425.5 839.6 L429.6 840.4 L434.2 841.2 L439.2 842.1 L444.8 843.2 L451.1 844.3 L458.3 845.5 L466.4 846.9 L475.3 848.4 L484.8 850.0 L494.7 851.6 L504.8 853.3 L514.9 855.0 L524.9 856.6 L534.5 858.2 L543.7 859.6 L552.1 860.9 L559.6 862.2 L566.4 863.3 L572.7 864.3 L578.7 865.4 L584.2 866.3 L589.4 867.3 L594.3 868.1 L599.0 869.0 L603.4 869.8 L607.6 870.6 L611.7 871.3 L615.7 872.0 L619.6 872.7 L623.4 873.4 L627.0 873.9 L630.3 874.5 L633.5 875.0 L636.4 875.4 L639.2 875.8 L641.8 876.2 L644.3 876.7 L646.6 877.1 L648.7 877.5 L650.7 877.9 L652.6 878.4 L654.3 878.9 L655.8 879.4 L657.1 879.8 L658.2 880.3 L659.1 880.8 L659.9 881.2 L660.7 881.7 L661.3 882.2 L662.0 882.7 L662.6 883.2 L663.3 883.8 L664.0 884.4 L664.6 885.1 L665.1 885.6 L665.6 886.2 L666.1 886.8 L666.5 887.5 L666.8 888.1 L667.1 888.8 L667.4 889.5 L667.7 890.2 L668.0 891.0 L668.2 891.9 L668.5 892.8 L668.7 893.6 L668.8 894.3 L668.9 894.9 L668.9 895.4 L669.0 895.9 L669.0 896.6 L669.0 897.5 L669.0 898.6 L668.9 900.0 L668.9 901.8 L668.9 903.9 L668.9 906.5 L668.9 909.3 L668.8 912.1 L668.8 915.1 L668.8 918.2 L668.7 921.6 L668.6 925.4 L668.6 929.6 L668.5 934.3 L668.4 939.6 L668.4 945.6 L668.4 952.4 L668.3 960.0 L668.3 968.4 L668.2 977.6 L668.2 987.5 L668.1 998.0 L668.1 1009.2 L668.0 1020.8 L668.0 1033.0 L668.0 1045.7 L668.0 1058.8 L668.1 1072.2 L668.2 1086.0 L668.4 1100.0 L668.8 1114.8 L669.1 1130.8 L669.5 1147.6 L670.0 1165.1 L670.5 1183.0 L671.0 1201.1 L671.5 1219.1 L672.1 1236.8 L672.6 1254.0 L673.1 1270.4 L673.6 1285.9 L674.0 1300.0 L674.4 1313.4 L674.8 1326.4 L675.2 1339.1 L675.6 1351.4 L676.0 1363.1 L676.4 1374.2 L676.8 1384.6 L677.2 1394.2 L677.5 1403.0 L677.8 1410.8 L678.1 1417.6 L678.3 1423.3 L679.9 1423.3 L679.7 1417.6 L679.5 1410.7 L679.2 1402.9 L678.9 1394.1 L678.5 1384.5 L678.2 1374.1 L677.8 1363.0 L677.4 1351.3 L677.1 1339.1 L676.7 1326.4 L676.3 1313.3 L676.0 1300.0 L675.7 1285.8 L675.5 1270.4 L675.2 1254.0 L674.9 1236.8 L674.7 1219.0 L674.4 1201.0 L674.2 1182.9 L673.9 1165.0 L673.7 1147.5 L673.6 1130.7 L673.4 1114.8 L673.4 1100.0 L673.3 1085.9 L673.2 1072.2 L673.2 1058.7 L673.1 1045.7 L673.1 1033.0 L673.1 1020.8 L673.1 1009.2 L673.2 998.0 L673.2 987.5 L673.2 977.6 L673.3 968.5 L673.3 960.0 L673.3 952.4 L673.3 945.6 L673.4 939.6 L673.4 934.3 L673.5 929.6 L673.5 925.4 L673.6 921.7 L673.6 918.3 L673.7 915.1 L673.7 912.2 L673.7 909.3 L673.7 906.5 L673.7 903.9 L673.7 901.8 L673.8 900.1 L673.8 898.7 L673.8 897.5 L673.8 896.6 L673.8 895.7 L673.8 895.0 L673.7 894.2 L673.5 893.4 L673.4 892.6 L673.1 891.6 L672.9 890.6 L672.6 889.6 L672.3 888.6 L671.9 887.7 L671.5 886.7 L671.1 885.8 L670.6 885.0 L670.0 884.1 L669.4 883.3 L668.7 882.5 L668.0 881.7 L667.2 881.0 L666.5 880.3 L665.8 879.6 L665.0 879.0 L664.2 878.3 L663.3 877.7 L662.4 877.1 L661.3 876.5 L660.1 875.9 L658.8 875.4 L657.3 874.9 L655.7 874.3 L653.8 873.8 L651.8 873.3 L649.7 872.8 L647.4 872.4 L645.1 872.0 L642.6 871.6 L639.9 871.2 L637.1 870.7 L634.2 870.3 L631.0 869.8 L627.7 869.3 L624.2 868.7 L620.4 868.1 L616.5 867.4 L612.5 866.7 L608.4 866.0 L604.2 865.2 L599.8 864.4 L595.1 863.6 L590.2 862.7 L585.0 861.8 L579.4 860.8 L573.5 859.8 L567.2 858.8 L560.4 857.6 L552.8 856.4 L544.4 855.1 L535.2 853.7 L525.6 852.2 L515.6 850.8 L505.4 849.3 L495.3 847.9 L485.3 846.5 L475.8 845.1 L466.9 843.8 L458.7 842.6 L451.5 841.5 L445.2 840.6 L439.6 839.7 L434.6 838.9 L430.0 838.1 L425.9 837.4 L422.1 836.7 L418.5 836.1 L415.0 835.4 L411.6 834.8 L408.1 834.2 L404.4 833.6 L400.6 833.0 L396.4 832.3 L392.2 831.6 L387.8 830.9 L383.4 830.3 L379.0 829.6 L374.7 828.9 L370.7 828.3 L366.8 827.7 L363.3 827.2 L360.2 826.7 L357.5 826.3 L355.3 826.0 Z" fill="#6b6b6b" stroke="none"/>
<path d="M668.4 881.8 L670.7 881.7 L673.5 881.5 L676.8 881.3 L680.5 881.0 L684.5 880.7 L688.8 880.5 L693.2 880.2 L697.7 879.9 L702.3 879.6 L706.7 879.4 L711.0 879.2 L715.0 879.1 L719.0 879.0 L723.2 878.9 L727.4 878.8 L731.6 878.5 L735.9 878.1 L740.2 877.8 L744.3 877.5 L748.3 877.3 L752.2 877.0 L755.9 876.8 L759.3 876.6 L762.4 876.5 L765.3 876.3 L768.0 876.2 L770.5 876.2 L772.9 876.1 L775.1 876.1 L777.2 876.1 L779.1 876.1 L780.8 876.2 L782.4 876.2 L783.8 876.2 L785.0 876.2 L786.1 876.2 L786.1 875.0 L785.1 874.9 L783.8 874.8 L782.4 874.7 L780.9 874.6 L779.1 874.5 L777.3 874.3 L775.2 874.2 L773.0 874.1 L770.6 874.0 L768.0 873.9 L765.3 873.8 L762.4 873.7 L759.2 873.7 L755.8 873.7 L752.1 873.7 L748.2 873.6 L744.2 873.7 L740.0 873.7 L735.7 873.7 L731.4 873.7 L727.1 873.8 L722.9 874.2 L718.8 874.5 L714.8 874.9 L710.7 875.3 L706.4 875.8 L702.0 876.4 L697.5 876.9 L693.0 877.5 L688.6 878.1 L684.3 878.7 L680.3 879.2 L676.7 879.7 L673.4 880.1 L670.6 880.5 L668.4 880.8 Z" fill="#6b6b6b" stroke="none"/>
<path d="M674.2 891.9 L677.1 891.7 L680.8 891.4 L685.2 891.0 L690.1 890.6 L695.5 890.2 L701.1 889.8 L706.9 889.3 L712.7 888.9 L718.5 888.5 L724.0 888.2 L729.2 887.9 L734.0 887.7 L738.5 887.6 L743.0 887.5 L747.6 887.4 L752.1 887.4 L756.5 887.4 L760.8 887.4 L764.9 887.5 L768.8 887.6 L772.4 887.7 L775.8 887.8 L778.7 888.0 L781.3 888.2 L783.4 888.3 L785.0 888.5 L786.3 888.7 L787.1 888.9 L787.7 889.0 L787.9 889.2 L788.0 889.2 L788.1 889.4 L788.3 889.7 L788.6 890.2 L789.0 890.8 L789.5 891.4 L790.1 892.1 L790.5 892.7 L790.9 893.4 L791.3 894.2 L791.7 895.1 L792.1 896.0 L792.4 897.0 L792.7 898.0 L793.0 899.0 L793.3 900.0 L793.5 901.1 L793.7 902.1 L793.9 903.1 L794.1 903.9 L794.2 904.7 L794.3 905.4 L794.4 906.1 L794.4 906.9 L794.5 907.9 L794.5 909.0 L794.5 910.3 L794.5 911.9 L794.5 913.8 L794.6 916.0 L794.6 918.2 L794.6 919.9 L794.6 921.5 L794.5 923.0 L794.5 924.8 L794.5 927.0 L794.4 929.8 L794.4 933.4 L794.3 938.0 L794.2 943.9 L794.2 951.1 L794.2 960.0 L794.2 970.9 L794.3 983.9 L794.4 998.7 L794.4 1014.8 L794.5 1031.9 L794.6 1049.6 L794.7 1067.7 L794.8 1085.7 L794.9 1103.3 L795.0 1120.1 L795.1 1135.8 L795.3 1150.0 L795.5 1163.1 L795.7 1175.5 L796.0 1187.5 L796.2 1199.0 L796.4 1210.1 L796.6 1220.9 L796.7 1231.3 L796.9 1241.4 L797.1 1251.3 L797.1 1261.0 L797.1 1270.5 L797.1 1280.0 L797.1 1289.5 L797.0 1299.1 L796.9 1308.7 L796.8 1318.2 L796.7 1327.4 L796.5 1336.3 L796.4 1344.7 L796.3 1352.6 L796.2 1359.8 L796.1 1366.2 L796.0 1371.7 L795.9 1376.3 L797.5 1376.3 L797.6 1371.8 L797.7 1366.2 L797.8 1359.8 L797.9 1352.6 L798.1 1344.7 L798.2 1336.3 L798.4 1327.4 L798.5 1318.2 L798.6 1308.7 L798.7 1299.1 L798.8 1289.5 L798.9 1280.0 L798.9 1270.5 L798.9 1261.0 L799.0 1251.3 L799.1 1241.4 L799.1 1231.3 L799.2 1220.8 L799.3 1210.1 L799.4 1199.0 L799.4 1187.5 L799.5 1175.5 L799.6 1163.0 L799.7 1150.0 L799.8 1135.8 L799.8 1120.1 L799.7 1103.3 L799.6 1085.7 L799.5 1067.7 L799.4 1049.6 L799.3 1031.8 L799.2 1014.7 L799.2 998.6 L799.1 983.9 L799.0 970.9 L799.0 960.0 L799.0 951.1 L798.9 943.9 L798.8 938.0 L798.8 933.4 L798.8 929.8 L798.8 927.0 L798.8 924.9 L798.7 923.1 L798.7 921.5 L798.7 919.9 L798.7 918.1 L798.6 916.0 L798.6 913.7 L798.5 911.8 L798.5 910.2 L798.4 908.9 L798.4 907.7 L798.3 906.7 L798.3 905.8 L798.2 904.9 L798.0 904.1 L797.9 903.2 L797.7 902.3 L797.5 901.3 L797.2 900.2 L796.9 899.1 L796.6 898.0 L796.3 896.9 L795.9 895.8 L795.5 894.7 L795.1 893.6 L794.6 892.6 L794.1 891.7 L793.5 890.7 L792.9 889.9 L792.3 889.2 L791.8 888.6 L791.5 888.2 L791.2 887.8 L790.9 887.3 L790.4 886.7 L789.7 886.2 L788.9 885.8 L788.0 885.5 L786.8 885.3 L785.4 885.1 L783.7 885.0 L781.5 884.8 L778.9 884.7 L775.9 884.6 L772.5 884.5 L768.9 884.5 L764.9 884.5 L760.8 884.5 L756.5 884.5 L752.0 884.6 L747.5 884.7 L742.9 884.9 L738.4 885.1 L733.8 885.3 L729.1 885.6 L723.9 886.0 L718.3 886.4 L712.6 886.9 L706.7 887.5 L701.0 888.0 L695.3 888.6 L690.0 889.1 L685.1 889.6 L680.7 890.1 L677.0 890.4 L674.0 890.7 Z" fill="#6b6b6b" stroke="none"/>
<path d="M504.6 815.2 C504.0 808.9 502.7 789.4 500.8 777.2 C498.9 765.0 495.8 753.1 493.2 741.8 C490.6 730.5 487.3 717.1 485.1 709.5 C482.9 701.9 482.0 700.7 479.8 696.3 C477.6 691.9 474.4 686.9 471.9 683.0 C469.4 679.1 466.6 675.8 464.6 673.0 C462.6 670.2 460.8 669.2 459.9 666.4 C459.0 663.6 459.1 660.3 459.2 656.4 C459.3 652.5 459.6 647.1 460.6 643.2 C461.6 639.3 463.3 635.8 465.2 633.2 C467.1 630.7 468.4 629.2 471.9 627.9 C475.4 626.6 474.8 624.2 486.4 625.6 C498.0 627.0 515.3 632.3 541.3 636.5 C567.3 640.7 608.8 648.0 642.5 650.6 C676.2 653.2 710.0 652.1 743.8 651.9 C777.5 651.7 819.0 650.2 845.0 649.4 C871.0 648.6 884.8 648.8 900.0 647.0 C915.2 645.2 924.1 641.4 936.2 638.6 C948.3 635.8 963.5 630.8 972.4 630.2 C981.2 629.6 985.1 632.0 989.3 635.0 C993.5 638.0 996.1 644.5 997.7 648.3 C999.3 652.1 998.7 656.3 998.9 657.9" fill="none" stroke="#6b6b6b" stroke-width="7.20"/>
<path d="M534.3 830.4 L534.3 829.1 L534.2 827.5 L534.2 825.6 L534.2 823.5 L534.2 821.2 L534.1 818.8 L534.1 816.2 L534.0 813.5 L533.8 810.8 L533.7 808.0 L533.5 805.2 L533.2 802.4 L532.9 799.6 L532.5 796.8 L532.2 793.9 L531.8 790.9 L531.4 787.8 L530.9 784.7 L530.4 781.5 L529.8 778.2 L529.2 774.9 L528.6 771.4 L527.9 767.9 L527.1 764.4 L526.3 760.6 L525.3 756.5 L524.3 752.2 L523.2 747.7 L522.1 743.2 L520.9 738.7 L519.7 734.3 L518.6 730.0 L517.5 725.9 L516.4 722.1 L515.5 718.7 L514.6 715.7 L513.8 713.2 L513.2 711.0 L512.6 709.1 L512.0 707.4 L511.5 706.0 L511.0 704.8 L510.5 703.7 L510.0 702.7 L509.6 701.7 L509.1 700.8 L508.6 699.8 L508.1 698.7 L507.6 697.7 L507.1 696.7 L506.6 695.8 L506.1 695.0 L505.6 694.2 L505.1 693.5 L504.6 692.7 L504.0 692.0 L503.4 691.2 L502.8 690.4 L502.1 689.4 L501.3 688.4 L500.4 687.2 L499.3 685.9 L498.2 684.6 L497.1 683.1 L495.8 681.7 L494.6 680.2 L493.4 678.7 L492.2 677.2 L491.0 675.8 L489.9 674.4 L488.9 673.1 L488.0 671.9 L487.3 670.7 L486.5 669.5 L485.8 668.4 L485.1 667.2 L484.5 666.1 L484.0 665.0 L483.4 664.0 L482.9 663.0 L482.5 662.0 L482.1 661.1 L481.7 660.2 L481.4 659.3 L481.1 658.5 L480.8 657.7 L480.5 656.9 L480.3 656.3 L480.2 655.7 L480.0 655.1 L480.0 654.6 L480.0 654.2 L480.0 653.8 L480.0 653.5 L480.1 653.3 L480.3 653.0 L480.5 652.6 L480.7 652.3 L481.0 652.1 L481.3 651.8 L481.6 651.5 L482.1 651.2 L482.6 651.0 L483.3 650.7 L484.0 650.5 L484.8 650.2 L485.7 650.0 L486.8 649.8 L487.9 649.5 L489.2 649.3 L490.5 649.1 L491.9 649.0 L493.3 648.8 L494.9 648.7 L496.5 648.5 L498.3 648.5 L500.1 648.4 L502.1 648.4 L504.1 648.4 L506.3 648.5 L508.5 648.6 L510.4 648.7 L512.4 648.9 L514.3 649.1 L516.3 649.3 L518.5 649.5 L521.1 649.8 L524.0 650.2 L527.3 650.6 L531.2 651.0 L535.8 651.6 L541.1 652.2 L547.3 652.9 L554.7 653.8 L562.9 654.7 L571.8 655.8 L581.1 656.9 L590.7 658.0 L600.3 659.1 L609.8 660.2 L619.0 661.3 L627.6 662.3 L635.4 663.2 L642.3 664.0 L648.2 664.7 L653.3 665.3 L657.9 665.8 L662.0 666.3 L665.7 666.8 L669.2 667.2 L672.6 667.6 L676.1 667.9 L679.8 668.2 L683.7 668.5 L688.1 668.8 L693.1 669.1 L698.5 669.4 L704.3 669.6 L710.3 669.9 L716.6 670.1 L723.0 670.4 L729.5 670.5 L736.2 670.7 L742.9 670.8 L749.5 670.8 L756.2 670.7 L762.7 670.6 L769.2 670.4 L775.6 670.1 L782.2 669.6 L788.8 669.0 L795.4 668.3 L802.0 667.6 L808.6 666.8 L815.1 666.1 L821.5 665.3 L827.7 664.6 L833.8 663.9 L839.6 663.3 L845.2 662.8 L850.5 662.4 L855.6 662.1 L860.5 661.8 L865.2 661.6 L869.8 661.4 L874.3 661.2 L878.7 661.1 L883.0 660.9 L887.3 660.7 L891.6 660.5 L895.9 660.2 L900.2 659.9 L904.5 659.5 L909.0 659.0 L913.4 658.4 L917.8 657.8 L922.1 657.2 L926.4 656.6 L930.5 656.0 L934.5 655.5 L938.3 655.0 L942.0 654.5 L945.3 654.1 L948.4 653.9 L951.3 653.7 L954.0 653.6 L956.4 653.6 L958.6 653.5 L960.7 653.6 L962.7 653.7 L964.4 653.8 L966.1 654.0 L967.7 654.2 L969.1 654.4 L970.6 654.7 L971.9 655.0 L973.1 655.4 L974.2 655.7 L975.0 656.1 L975.8 656.4 L976.4 656.8 L977.0 657.3 L977.5 657.7 L978.0 658.3 L978.5 658.9 L979.1 659.7 L979.7 660.5 L980.4 661.4 L981.0 662.4 L981.7 663.4 L982.3 664.5 L982.9 665.6 L983.5 666.8 L984.0 668.0 L984.6 669.4 L985.2 670.8 L985.7 672.4 L986.3 674.0 L986.8 675.8 L987.4 677.7 L987.9 679.8 L988.4 681.9 L988.9 684.1 L989.4 686.4 L989.9 688.8 L990.4 691.3 L990.9 693.9 L991.4 696.7 L991.9 699.6 L992.3 702.5 L992.8 705.7 L993.3 708.9 L993.8 712.3 L994.3 715.8 L994.7 719.4 L995.2 723.2 L995.6 727.1 L996.1 731.1 L996.6 735.2 L997.0 739.4 L997.6 743.7 L998.1 748.1 L998.7 752.6 L999.3 757.1 L1000.0 761.7 L1000.7 766.4 L1001.4 771.3 L1002.2 776.3 L1003.0 781.4 L1003.8 786.5 L1004.6 791.7 L1005.5 796.9 L1006.4 802.1 L1007.2 807.2 L1008.1 812.4 L1009.0 817.5 L1010.0 822.5 L1010.9 827.5 L1011.9 832.6 L1013.0 837.6 L1014.0 842.6 L1015.0 847.7 L1016.1 852.7 L1017.1 857.7 L1018.1 862.7 L1019.1 867.7 L1020.1 872.7 L1021.0 877.8 L1021.9 882.9 L1022.8 888.3 L1023.7 893.8 L1024.5 899.3 L1025.4 904.9 L1026.2 910.5 L1027.0 915.8 L1027.8 921.0 L1028.5 925.9 L1029.3 930.4 L1030.0 934.6 L1030.7 938.2 L1031.4 941.2 L1031.9 943.7 L1032.3 945.8 L1032.7 947.5 L1033.1 948.9 L1033.5 950.2 L1034.0 951.5 L1034.6 952.6 L1035.3 953.8 L1036.1 955.0 L1037.1 956.5 L1038.3 958.3 L1039.8 960.3 L1041.7 962.6 L1043.7 965.1 L1046.0 967.6 L1048.4 970.1 L1050.8 972.6 L1053.2 975.1 L1055.5 977.5 L1057.7 979.7 L1059.6 981.7 L1061.2 983.5 L1062.5 984.9 L1063.6 986.1 L1064.6 987.1 L1065.4 987.9 L1066.1 988.4 L1066.7 988.8 L1066.9 988.9 L1066.5 988.5 L1066.8 986.3 L1067.2 985.9 L1067.0 986.0 L1066.4 986.2 L1065.6 986.6 L1064.8 987.0 L1064.0 987.4 L1063.2 987.7 L1062.3 988.1 L1061.2 988.5 L1059.8 988.9 L1058.2 989.2 L1056.3 989.6 L1054.0 990.0 L1051.4 990.4 L1048.2 990.8 L1044.6 991.2 L1040.3 991.7 L1035.2 992.1 L1029.5 992.6 L1023.2 993.1 L1016.7 993.6 L1009.9 994.1 L1003.0 994.6 L996.2 995.1 L989.6 995.5 L983.3 995.9 L977.5 996.3 L972.3 996.6 L967.5 996.8 L962.9 997.0 L958.3 997.2 L954.0 997.3 L949.8 997.4 L945.9 997.5 L942.2 997.6 L938.7 997.6 L935.6 997.6 L932.8 997.7 L930.4 997.7 L928.4 997.8 L928.4 1000.2 L930.5 1000.2 L932.9 1000.2 L935.6 1000.2 L938.8 1000.2 L942.2 1000.2 L945.9 1000.2 L949.8 1000.2 L954.0 1000.1 L958.4 1000.1 L963.0 1000.0 L967.7 999.8 L972.5 999.6 L977.7 999.4 L983.5 999.1 L989.8 998.8 L996.4 998.4 L1003.2 998.1 L1010.1 997.7 L1016.9 997.2 L1023.5 996.8 L1029.7 996.4 L1035.5 996.0 L1040.6 995.6 L1045.0 995.2 L1048.7 994.8 L1051.9 994.4 L1054.7 994.0 L1057.1 993.6 L1059.1 993.1 L1060.8 992.7 L1062.3 992.3 L1063.6 991.9 L1064.7 991.4 L1065.7 991.0 L1066.6 990.6 L1067.4 990.2 L1068.0 989.9 L1068.5 989.7 L1068.9 989.5 L1069.8 988.9 L1070.0 986.5 L1069.3 985.8 L1068.9 985.5 L1068.5 985.2 L1068.0 984.8 L1067.3 984.2 L1066.5 983.4 L1065.5 982.3 L1064.2 980.8 L1062.5 979.0 L1060.5 976.9 L1058.4 974.7 L1056.1 972.3 L1053.7 969.9 L1051.3 967.4 L1049.0 964.9 L1046.7 962.4 L1044.7 960.1 L1043.0 957.9 L1041.5 955.9 L1040.4 954.2 L1039.4 952.8 L1038.7 951.7 L1038.1 950.7 L1037.7 949.8 L1037.3 948.9 L1036.9 947.8 L1036.6 946.5 L1036.2 944.9 L1035.8 942.9 L1035.3 940.4 L1034.7 937.4 L1034.0 933.8 L1033.2 929.8 L1032.5 925.3 L1031.7 920.4 L1030.9 915.2 L1030.1 909.9 L1029.3 904.3 L1028.5 898.8 L1027.6 893.2 L1026.8 887.6 L1025.9 882.2 L1025.0 877.0 L1024.0 872.0 L1023.1 867.0 L1022.1 861.9 L1021.0 856.9 L1020.0 851.9 L1019.0 846.8 L1017.9 841.8 L1016.9 836.8 L1015.9 831.8 L1014.9 826.8 L1013.9 821.8 L1013.0 816.7 L1012.1 811.7 L1011.2 806.6 L1010.3 801.4 L1009.4 796.2 L1008.6 791.0 L1007.7 785.9 L1006.9 780.8 L1006.2 775.7 L1005.4 770.7 L1004.7 765.9 L1004.0 761.1 L1003.3 756.5 L1002.7 752.0 L1002.1 747.6 L1001.5 743.3 L1001.0 739.0 L1000.5 734.8 L1000.1 730.7 L999.6 726.7 L999.1 722.7 L998.7 718.9 L998.2 715.3 L997.8 711.7 L997.3 708.3 L996.8 705.0 L996.3 701.9 L995.8 698.9 L995.3 696.0 L994.8 693.2 L994.3 690.6 L993.9 688.0 L993.4 685.6 L992.8 683.2 L992.3 680.9 L991.8 678.8 L991.2 676.7 L990.7 674.7 L990.1 672.8 L989.5 671.1 L988.9 669.4 L988.3 667.9 L987.7 666.4 L987.1 665.1 L986.4 663.8 L985.8 662.5 L985.1 661.3 L984.4 660.2 L983.6 659.2 L983.0 658.2 L982.3 657.3 L981.7 656.4 L981.0 655.6 L980.3 654.9 L979.5 654.2 L978.7 653.5 L977.7 652.9 L976.7 652.4 L975.6 652.0 L974.3 651.5 L972.9 651.2 L971.4 650.8 L969.9 650.5 L968.3 650.2 L966.6 650.0 L964.8 649.8 L962.9 649.7 L960.9 649.6 L958.7 649.5 L956.3 649.6 L953.8 649.6 L951.1 649.7 L948.2 649.9 L945.0 650.2 L941.5 650.5 L937.8 651.0 L934.0 651.5 L929.9 652.1 L925.8 652.7 L921.5 653.3 L917.2 653.9 L912.9 654.5 L908.5 655.0 L904.1 655.5 L899.8 655.9 L895.6 656.2 L891.3 656.5 L887.1 656.7 L882.9 656.9 L878.5 657.1 L874.2 657.3 L869.7 657.4 L865.0 657.6 L860.3 657.8 L855.3 658.1 L850.2 658.4 L844.8 658.8 L839.2 659.3 L833.3 659.9 L827.3 660.6 L821.0 661.3 L814.6 662.1 L808.1 662.9 L801.6 663.6 L795.0 664.4 L788.4 665.0 L781.8 665.6 L775.4 666.1 L769.0 666.4 L762.6 666.6 L756.1 666.7 L749.5 666.8 L742.9 666.8 L736.2 666.7 L729.6 666.5 L723.1 666.4 L716.7 666.1 L710.5 665.9 L704.5 665.6 L698.7 665.4 L693.3 665.1 L688.4 664.8 L684.0 664.6 L680.1 664.3 L676.5 663.9 L673.1 663.6 L669.7 663.2 L666.2 662.8 L662.5 662.4 L658.4 661.8 L653.8 661.3 L648.6 660.7 L642.7 660.0 L635.8 659.2 L628.0 658.3 L619.4 657.3 L610.3 656.3 L600.8 655.2 L591.1 654.0 L581.6 652.9 L572.2 651.8 L563.4 650.8 L555.1 649.8 L547.8 648.9 L541.5 648.2 L536.3 647.6 L531.7 647.1 L527.8 646.6 L524.4 646.2 L521.5 645.8 L519.0 645.5 L516.7 645.3 L514.7 645.1 L512.7 644.9 L510.7 644.7 L508.7 644.6 L506.5 644.5 L504.2 644.4 L502.1 644.4 L500.0 644.4 L498.1 644.5 L496.3 644.5 L494.6 644.7 L492.9 644.8 L491.4 645.0 L489.9 645.2 L488.5 645.4 L487.2 645.6 L486.0 645.8 L484.8 646.1 L483.8 646.4 L482.8 646.7 L481.8 647.0 L481.0 647.3 L480.2 647.7 L479.5 648.2 L478.8 648.6 L478.2 649.2 L477.6 649.8 L477.2 650.4 L476.7 651.0 L476.4 651.8 L476.1 652.6 L476.0 653.4 L476.0 654.2 L476.0 655.0 L476.1 655.8 L476.3 656.6 L476.5 657.4 L476.7 658.2 L477.0 659.0 L477.3 659.8 L477.6 660.7 L478.0 661.6 L478.4 662.6 L478.8 663.6 L479.3 664.7 L479.8 665.8 L480.4 666.9 L481.0 668.0 L481.7 669.2 L482.4 670.4 L483.1 671.6 L483.9 672.9 L484.8 674.1 L485.7 675.5 L486.7 676.9 L487.9 678.3 L489.1 679.8 L490.3 681.3 L491.5 682.8 L492.8 684.3 L494.0 685.7 L495.1 687.1 L496.2 688.4 L497.2 689.7 L498.1 690.8 L498.9 691.9 L499.6 692.8 L500.3 693.6 L500.8 694.4 L501.4 695.1 L501.9 695.7 L502.3 696.4 L502.8 697.1 L503.2 697.8 L503.7 698.6 L504.2 699.4 L504.7 700.5 L505.3 701.5 L505.8 702.5 L506.2 703.4 L506.7 704.3 L507.2 705.2 L507.6 706.2 L508.1 707.4 L508.7 708.7 L509.2 710.2 L509.9 712.1 L510.6 714.2 L511.4 716.7 L512.3 719.6 L513.4 723.0 L514.5 726.7 L515.7 730.8 L517.0 735.0 L518.2 739.4 L519.5 743.9 L520.8 748.4 L522.0 752.8 L523.1 757.0 L524.2 761.1 L525.1 764.8 L525.9 768.4 L526.6 771.8 L527.3 775.2 L527.9 778.6 L528.5 781.8 L529.1 785.0 L529.6 788.1 L530.1 791.1 L530.5 794.1 L530.9 797.0 L531.3 799.8 L531.6 802.6 L531.9 805.3 L532.2 808.1 L532.4 810.9 L532.5 813.6 L532.7 816.3 L532.8 818.8 L532.8 821.3 L532.9 823.5 L533.0 825.6 L533.0 827.5 L533.0 829.1 L533.1 830.4 Z" fill="#6b6b6b" stroke="none"/>
<path d="M996.5 662.7 C996.5 668.3 996.1 687.6 996.5 696.5 C996.9 705.4 996.1 705.8 998.9 715.8 C1001.7 725.8 1009.4 741.9 1013.4 756.8 C1017.4 771.7 1020.2 787.0 1023.0 805.1 C1025.8 823.2 1028.7 844.1 1030.3 865.4 C1031.9 886.7 1032.3 921.6 1032.7 932.9" fill="none" stroke="#6b6b6b" stroke-width="4.00"/>
<path d="M504.6 815.2 C506.1 817.7 508.5 827.7 513.4 830.4 C518.2 833.1 530.3 831.4 533.7 831.6" fill="none" stroke="#6b6b6b" stroke-width="2.00"/>
<path d="M998.9 657.9 C1009.3 658.8 1038.2 661.8 1061.3 663.3 C1084.3 664.8 1111.9 667.3 1137.2 667.1 C1162.5 666.9 1187.9 665.0 1213.2 662.0 C1238.5 659.0 1265.6 653.4 1289.1 649.4 C1312.6 645.4 1341.8 640.0 1354.0 638.3 C1366.2 636.6 1359.3 638.1 1362.0 639.0 C1364.7 639.9 1363.3 640.9 1370.0 643.5 C1376.7 646.1 1387.9 651.5 1402.3 654.4 C1416.7 657.3 1432.5 658.5 1456.6 660.7 C1480.7 663.0 1522.9 667.3 1547.0 667.9 C1571.1 668.5 1584.6 666.2 1601.2 664.3 C1617.8 662.3 1632.0 659.7 1646.5 656.2 C1661.0 652.7 1679.6 645.5 1688.0 643.5 C1696.4 641.5 1694.7 642.9 1697.1 644.4 C1699.5 645.9 1699.9 643.0 1702.5 652.5 C1705.1 662.0 1709.7 686.4 1712.7 701.3 C1715.7 716.2 1718.6 732.1 1720.3 741.8 C1722.0 751.5 1722.4 756.5 1722.8 759.5" fill="none" stroke="#6b6b6b" stroke-width="7.20"/>
<path d="M997.7 665.1 C1008.1 665.9 1038.4 668.2 1060.0 670.0 C1081.6 671.8 1115.9 674.9 1127.1 675.9" fill="none" stroke="#6b6b6b" stroke-width="2.00"/>
<path d="M1127.0 677.1 L1129.9 677.5 L1133.4 677.9 L1137.5 678.4 L1142.1 679.0 L1147.1 679.6 L1152.5 680.3 L1158.2 680.9 L1164.0 681.5 L1170.0 682.0 L1176.0 682.3 L1182.0 682.4 L1187.9 682.4 L1193.8 682.2 L1200.1 681.9 L1206.7 681.5 L1213.4 681.0 L1220.2 680.4 L1227.1 679.7 L1233.9 679.0 L1240.5 678.3 L1246.9 677.6 L1253.1 676.9 L1258.8 676.3 L1264.1 675.7 L1269.1 675.2 L1273.8 674.8 L1278.3 674.4 L1282.6 673.9 L1286.7 673.6 L1290.6 673.2 L1294.3 672.8 L1297.8 672.4 L1301.1 672.0 L1304.2 671.5 L1307.2 671.1 L1310.0 670.6 L1312.6 670.0 L1314.9 669.4 L1317.0 668.8 L1318.8 668.1 L1320.4 667.4 L1321.8 666.7 L1323.0 666.0 L1324.1 665.5 L1325.1 665.0 L1326.0 664.5 L1326.9 664.2 L1327.9 664.0 L1329.0 663.7 L1330.1 663.5 L1331.1 663.3 L1332.1 663.2 L1333.0 663.1 L1333.8 663.0 L1334.6 663.0 L1335.4 663.0 L1336.1 663.1 L1336.9 663.3 L1337.7 663.5 L1338.5 663.8 L1339.4 664.2 L1340.3 664.7 L1341.3 665.2 L1342.3 665.9 L1343.4 666.6 L1344.4 667.3 L1345.4 668.1 L1346.3 669.0 L1347.3 669.9 L1348.2 670.8 L1349.0 671.8 L1349.8 672.9 L1350.6 674.0 L1351.4 674.9 L1352.0 675.7 L1352.6 676.4 L1353.0 677.1 L1353.5 677.9 L1353.9 678.9 L1354.4 680.1 L1354.9 681.7 L1355.5 683.8 L1356.1 686.3 L1356.8 689.3 L1357.5 692.8 L1358.2 696.6 L1358.9 700.8 L1359.6 705.4 L1360.3 710.3 L1361.0 715.5 L1361.8 721.0 L1362.7 726.8 L1363.6 732.8 L1364.6 739.1 L1365.7 745.7 L1366.9 752.5 L1368.3 759.8 L1369.8 767.8 L1371.4 776.4 L1373.1 785.5 L1374.9 794.8 L1376.8 804.2 L1378.6 813.6 L1380.5 822.7 L1382.3 831.5 L1384.1 839.7 L1385.7 847.3 L1387.2 853.9 L1388.7 859.9 L1390.1 865.2 L1391.5 870.1 L1392.8 874.5 L1394.1 878.5 L1395.4 882.2 L1396.6 885.6 L1397.8 888.8 L1398.9 891.9 L1399.9 894.9 L1400.9 897.9 L1401.9 900.9 L1402.8 904.0 L1403.6 906.9 L1404.4 909.6 L1405.2 912.1 L1405.9 914.5 L1406.5 916.9 L1407.1 919.1 L1407.7 921.3 L1408.3 923.4 L1408.8 925.5 L1409.3 927.6 L1409.8 929.7 L1410.3 931.9 L1410.8 934.1 L1411.3 936.2 L1411.9 938.3 L1412.4 940.4 L1412.9 942.3 L1413.4 944.2 L1413.8 946.0 L1414.1 947.7 L1414.3 949.3 L1414.5 950.6 L1414.6 951.8 L1414.5 952.7 L1414.4 953.4 L1414.2 954.1 L1413.9 954.6 L1413.6 955.1 L1413.2 955.6 L1412.8 956.0 L1412.3 956.4 L1411.8 956.9 L1411.4 957.3 L1410.8 957.8 L1410.5 958.2 L1413.5 960.8 L1413.7 960.6 L1413.9 960.4 L1414.4 960.1 L1414.9 959.7 L1415.6 959.3 L1416.3 958.7 L1417.0 957.9 L1417.7 957.1 L1418.3 956.0 L1418.9 954.8 L1419.2 953.5 L1419.4 952.0 L1419.5 950.5 L1419.5 948.8 L1419.4 947.1 L1419.2 945.2 L1419.0 943.3 L1418.7 941.2 L1418.4 939.1 L1418.0 937.0 L1417.6 934.8 L1417.2 932.6 L1416.7 930.4 L1416.2 928.3 L1415.7 926.1 L1415.1 923.9 L1414.6 921.8 L1414.0 919.6 L1413.4 917.4 L1412.8 915.1 L1412.1 912.8 L1411.4 910.3 L1410.7 907.7 L1409.9 905.0 L1409.0 902.1 L1408.1 899.1 L1407.1 895.9 L1406.1 892.8 L1405.0 889.7 L1403.9 886.6 L1402.7 883.4 L1401.5 880.1 L1400.3 876.4 L1399.0 872.5 L1397.7 868.2 L1396.4 863.5 L1395.0 858.3 L1393.6 852.5 L1392.0 845.8 L1390.4 838.3 L1388.7 830.2 L1386.9 821.4 L1385.0 812.3 L1383.2 803.0 L1381.3 793.6 L1379.5 784.3 L1377.8 775.2 L1376.2 766.6 L1374.6 758.6 L1373.3 751.3 L1372.1 744.6 L1371.0 738.1 L1370.0 731.8 L1369.1 725.8 L1368.3 720.1 L1367.5 714.6 L1366.7 709.4 L1366.0 704.4 L1365.3 699.8 L1364.6 695.5 L1363.9 691.6 L1363.2 687.9 L1362.5 684.8 L1361.8 682.1 L1361.2 679.8 L1360.5 678.0 L1359.9 676.3 L1359.3 674.9 L1358.6 673.7 L1357.9 672.7 L1357.2 671.7 L1356.5 670.9 L1355.8 670.0 L1355.0 668.9 L1354.0 667.7 L1353.0 666.5 L1351.9 665.3 L1350.8 664.2 L1349.6 663.2 L1348.4 662.2 L1347.1 661.3 L1345.9 660.4 L1344.6 659.6 L1343.4 658.9 L1342.1 658.3 L1340.9 657.8 L1339.7 657.3 L1338.4 657.0 L1337.2 656.7 L1336.0 656.6 L1334.8 656.5 L1333.6 656.5 L1332.4 656.6 L1331.2 656.7 L1330.1 656.9 L1328.9 657.1 L1327.7 657.4 L1326.3 657.6 L1324.9 658.0 L1323.5 658.5 L1322.3 659.1 L1321.1 659.7 L1320.0 660.3 L1318.8 660.9 L1317.6 661.5 L1316.3 662.1 L1314.8 662.6 L1313.1 663.2 L1311.1 663.7 L1308.8 664.2 L1306.2 664.7 L1303.3 665.1 L1300.3 665.5 L1297.0 665.9 L1293.6 666.3 L1289.9 666.7 L1286.0 667.1 L1282.0 667.5 L1277.7 667.9 L1273.2 668.3 L1268.4 668.8 L1263.5 669.3 L1258.1 669.8 L1252.4 670.4 L1246.2 671.1 L1239.8 671.9 L1233.2 672.6 L1226.4 673.4 L1219.6 674.1 L1212.8 674.8 L1206.2 675.4 L1199.7 675.9 L1193.6 676.3 L1187.7 676.6 L1182.0 676.7 L1176.2 676.7 L1170.2 676.5 L1164.3 676.4 L1158.5 676.2 L1152.9 676.0 L1147.5 675.7 L1142.4 675.4 L1137.8 675.2 L1133.7 674.9 L1130.1 674.8 L1127.2 674.7 Z" fill="#6b6b6b" stroke="none"/>
<path d="M1354.9 644.3 C1357.4 652.9 1364.2 669.8 1370.1 696.2 C1376.0 722.6 1384.5 770.0 1390.4 802.5 C1396.3 835.0 1403.1 865.8 1405.6 891.1 C1408.1 916.4 1405.6 943.9 1405.6 954.4" fill="none" stroke="#6b6b6b" stroke-width="2.00"/>
<path d="M1360.7 657.1 C1370.7 659.0 1398.4 665.9 1420.4 668.8 C1442.4 671.6 1468.6 672.4 1492.7 674.2 C1516.8 676.0 1544.0 679.7 1565.1 679.7 C1586.2 679.7 1599.4 676.8 1619.3 674.2 C1639.2 671.6 1672.3 665.5 1684.4 664.3 C1696.5 663.1 1688.8 660.9 1691.7 667.0 C1694.6 673.1 1698.4 686.5 1702.0 701.0 C1705.6 715.5 1711.5 745.0 1713.4 753.8" fill="none" stroke="#6b6b6b" stroke-width="4.00"/>
<path d="M1066.5 988.4 C1075.4 987.7 1101.0 985.2 1120.0 984.0 C1139.0 982.8 1170.2 981.5 1180.3 981.0" fill="none" stroke="#6b6b6b" stroke-width="2.00"/>
<path d="M1180.4 982.5 L1182.8 982.3 L1185.7 982.2 L1189.1 981.9 L1193.0 981.7 L1197.1 981.5 L1201.6 981.2 L1206.2 980.9 L1211.0 980.5 L1215.9 980.2 L1220.8 979.8 L1225.6 979.5 L1230.2 979.1 L1234.6 978.6 L1238.8 978.2 L1242.9 977.7 L1246.9 977.2 L1251.0 976.7 L1255.2 976.2 L1259.7 975.7 L1264.5 975.1 L1269.8 974.5 L1275.6 973.9 L1282.1 973.2 L1289.3 972.5 L1297.7 971.8 L1307.5 971.0 L1318.3 970.1 L1329.9 969.2 L1341.9 968.3 L1354.1 967.4 L1366.1 966.5 L1377.7 965.6 L1388.5 964.8 L1398.3 964.0 L1406.7 963.3 L1413.4 962.7 L1418.5 962.2 L1422.1 961.8 L1424.5 961.5 L1426.0 961.3 L1427.2 960.9 L1428.6 957.2 L1427.2 955.9 L1427.3 956.0 L1428.1 958.7 L1426.9 960.1 L1427.4 959.9 L1429.0 959.6 L1431.3 959.1 L1433.8 958.5 L1436.5 957.8 L1439.4 957.2 L1442.4 956.4 L1445.5 955.7 L1448.8 955.0 L1452.2 954.2 L1455.6 953.6 L1459.2 952.9 L1462.9 952.4 L1466.6 951.9 L1470.3 951.5 L1474.1 951.1 L1477.8 950.9 L1481.7 950.6 L1485.6 950.4 L1489.7 950.2 L1494.1 950.0 L1498.6 949.9 L1503.5 949.7 L1508.6 949.5 L1514.1 949.3 L1520.1 949.1 L1526.8 948.9 L1534.5 948.6 L1542.9 948.4 L1551.9 948.1 L1561.1 947.8 L1570.4 947.5 L1579.4 947.3 L1588.1 947.0 L1596.1 946.8 L1603.3 946.6 L1609.3 946.4 L1614.0 946.3 L1613.8 942.3 L1609.2 942.4 L1603.2 942.5 L1596.0 942.7 L1588.0 942.9 L1579.3 943.0 L1570.3 943.2 L1561.0 943.4 L1551.7 943.7 L1542.8 943.9 L1534.3 944.1 L1526.6 944.3 L1519.9 944.5 L1514.0 944.7 L1508.5 944.8 L1503.3 944.9 L1498.5 945.1 L1493.9 945.2 L1489.6 945.4 L1485.4 945.5 L1481.4 945.7 L1477.5 945.9 L1473.7 946.2 L1469.9 946.5 L1466.0 946.9 L1462.2 947.4 L1458.4 947.9 L1454.7 948.6 L1451.2 949.2 L1447.7 949.9 L1444.4 950.7 L1441.2 951.4 L1438.2 952.1 L1435.3 952.8 L1432.6 953.4 L1430.1 953.9 L1427.8 954.4 L1426.0 954.8 L1424.7 955.3 L1423.0 957.1 L1424.1 960.2 L1424.7 960.6 L1423.8 959.5 L1425.0 956.1 L1425.0 956.0 L1423.8 956.2 L1421.5 956.5 L1417.9 956.9 L1413.0 957.3 L1406.2 957.9 L1397.8 958.6 L1388.1 959.4 L1377.3 960.2 L1365.7 961.1 L1353.7 962.1 L1341.5 963.1 L1329.5 964.0 L1317.9 965.0 L1307.1 965.9 L1297.3 966.7 L1288.9 967.5 L1281.6 968.2 L1275.1 968.9 L1269.2 969.5 L1263.9 970.2 L1259.1 970.9 L1254.6 971.5 L1250.4 972.2 L1246.3 972.8 L1242.3 973.3 L1238.3 973.9 L1234.2 974.4 L1229.8 974.9 L1225.2 975.4 L1220.4 975.9 L1215.6 976.4 L1210.7 976.9 L1206.0 977.3 L1201.3 977.7 L1196.9 978.1 L1192.7 978.4 L1188.9 978.8 L1185.5 979.0 L1182.6 979.3 L1180.2 979.5 Z" fill="#6b6b6b" stroke="none"/>
<path d="M1415.6 965.6 L1420.9 966.1 L1427.7 966.7 L1435.9 967.4 L1445.0 968.2 L1454.9 969.1 L1465.2 970.0 L1475.7 971.0 L1485.9 971.9 L1495.8 972.8 L1504.9 973.5 L1513.0 974.2 L1519.7 974.9 L1525.1 975.6 L1529.7 976.3 L1533.5 977.0 L1536.7 977.7 L1539.4 978.5 L1541.9 979.2 L1544.2 979.9 L1546.7 980.7 L1549.3 981.5 L1552.2 982.2 L1555.6 983.0 L1559.5 983.7 L1564.0 984.4 L1568.8 985.1 L1573.8 985.8 L1579.1 986.4 L1584.5 987.1 L1590.0 987.7 L1595.5 988.4 L1600.9 989.1 L1606.3 989.7 L1611.4 990.4 L1616.4 991.2 L1621.0 991.9 L1625.5 992.7 L1630.0 993.5 L1634.5 994.3 L1638.8 995.2 L1643.1 996.0 L1647.2 996.9 L1651.2 997.8 L1655.0 998.7 L1658.6 999.5 L1662.0 1000.4 L1665.1 1001.3 L1667.9 1002.1 L1670.4 1002.9 L1672.6 1003.7 L1674.5 1004.5 L1676.1 1005.3 L1677.6 1006.1 L1678.9 1006.8 L1680.1 1007.6 L1681.1 1008.4 L1682.2 1009.2 L1683.2 1010.0 L1684.2 1010.9 L1685.3 1011.8 L1686.3 1012.6 L1687.1 1013.4 L1687.9 1014.2 L1688.5 1014.9 L1689.0 1015.6 L1689.5 1016.3 L1690.0 1017.1 L1690.5 1018.0 L1691.0 1019.0 L1691.5 1020.2 L1692.1 1021.5 L1692.8 1023.1 L1693.4 1024.7 L1694.1 1026.5 L1694.9 1028.4 L1695.6 1030.4 L1696.3 1032.6 L1697.0 1034.8 L1697.7 1037.1 L1698.4 1039.4 L1699.1 1041.8 L1699.7 1044.3 L1700.3 1046.7 L1700.8 1049.2 L1701.3 1051.8 L1701.8 1054.2 L1702.2 1056.7 L1702.6 1059.1 L1703.0 1061.7 L1703.3 1064.3 L1703.7 1067.0 L1704.0 1069.9 L1704.2 1073.0 L1704.5 1076.2 L1704.7 1079.8 L1705.0 1083.6 L1705.2 1087.8 L1705.5 1092.5 L1705.7 1097.5 L1705.8 1102.8 L1706.0 1108.3 L1706.1 1113.9 L1706.3 1119.5 L1706.3 1125.0 L1706.4 1130.4 L1706.4 1135.6 L1706.4 1140.5 L1706.3 1144.9 L1706.2 1149.1 L1706.1 1153.0 L1705.9 1156.6 L1705.6 1160.1 L1705.3 1163.4 L1705.0 1166.7 L1704.7 1169.8 L1704.3 1173.0 L1703.9 1176.1 L1703.4 1179.3 L1703.0 1182.5 L1702.5 1185.8 L1701.9 1189.4 L1701.3 1193.1 L1700.6 1197.0 L1699.8 1201.0 L1699.0 1205.0 L1698.2 1208.9 L1697.4 1212.6 L1696.7 1216.2 L1696.0 1219.4 L1695.3 1222.3 L1694.8 1224.8 L1694.4 1226.8 L1696.2 1227.2 L1696.6 1225.2 L1697.1 1222.7 L1697.8 1219.8 L1698.5 1216.6 L1699.3 1213.0 L1700.1 1209.3 L1700.9 1205.4 L1701.7 1201.4 L1702.5 1197.4 L1703.3 1193.5 L1703.9 1189.7 L1704.5 1186.2 L1705.0 1182.8 L1705.5 1179.5 L1705.9 1176.4 L1706.4 1173.2 L1706.8 1170.1 L1707.1 1166.9 L1707.5 1163.6 L1707.8 1160.3 L1708.0 1156.8 L1708.3 1153.1 L1708.6 1149.2 L1708.9 1145.1 L1709.1 1140.5 L1709.4 1135.7 L1709.6 1130.5 L1709.8 1125.0 L1709.9 1119.5 L1710.1 1113.9 L1710.2 1108.3 L1710.3 1102.8 L1710.3 1097.4 L1710.3 1092.4 L1710.3 1087.7 L1710.2 1083.4 L1710.1 1079.5 L1709.9 1075.9 L1709.7 1072.5 L1709.4 1069.4 L1709.1 1066.4 L1708.8 1063.6 L1708.4 1060.9 L1708.0 1058.3 L1707.6 1055.7 L1707.2 1053.2 L1706.7 1050.7 L1706.2 1048.2 L1705.6 1045.5 L1705.0 1043.0 L1704.4 1040.4 L1703.7 1037.9 L1703.0 1035.5 L1702.3 1033.1 L1701.5 1030.8 L1700.8 1028.6 L1700.0 1026.5 L1699.3 1024.5 L1698.5 1022.7 L1697.8 1020.9 L1697.2 1019.4 L1696.6 1018.0 L1696.0 1016.7 L1695.4 1015.5 L1694.8 1014.4 L1694.1 1013.3 L1693.5 1012.3 L1692.7 1011.4 L1691.9 1010.4 L1691.0 1009.5 L1690.0 1008.6 L1688.9 1007.6 L1687.8 1006.7 L1686.7 1005.8 L1685.6 1004.9 L1684.4 1003.9 L1683.2 1003.0 L1681.8 1002.1 L1680.2 1001.2 L1678.6 1000.4 L1676.7 999.5 L1674.5 998.6 L1672.2 997.7 L1669.5 996.9 L1666.6 996.0 L1663.4 995.1 L1659.9 994.2 L1656.3 993.3 L1652.4 992.4 L1648.4 991.5 L1644.2 990.7 L1639.9 989.8 L1635.5 988.9 L1631.0 988.1 L1626.5 987.3 L1622.0 986.5 L1617.2 985.7 L1612.2 985.0 L1607.0 984.3 L1601.6 983.6 L1596.1 982.9 L1590.6 982.3 L1585.2 981.6 L1579.8 981.0 L1574.5 980.3 L1569.5 979.7 L1564.8 979.0 L1560.5 978.3 L1556.7 977.6 L1553.5 976.9 L1550.7 976.2 L1548.3 975.4 L1545.9 974.7 L1543.5 973.9 L1540.9 973.2 L1537.9 972.4 L1534.6 971.6 L1530.6 970.9 L1525.9 970.2 L1520.3 969.5 L1513.5 968.8 L1505.4 968.0 L1496.2 967.3 L1486.3 966.7 L1476.0 966.2 L1465.5 965.7 L1455.1 965.3 L1445.2 964.8 L1436.0 964.5 L1427.9 964.1 L1421.0 963.8 L1415.8 963.6 Z" fill="#6b6b6b" stroke="none"/>
<path d="M810.8 1123.3 L830.8 1121.3 L856.4 1118.8 L886.6 1115.8 L920.5 1112.5 L957.3 1108.9 L996.0 1105.1 L1035.8 1101.1 L1075.8 1097.1 L1115.2 1093.1 L1152.9 1089.3 L1188.2 1085.6 L1220.2 1082.2 L1250.5 1078.8 L1281.1 1075.3 L1311.6 1071.6 L1341.8 1067.9 L1371.2 1064.2 L1399.7 1060.7 L1426.8 1057.2 L1452.3 1054.0 L1475.9 1051.0 L1497.1 1048.3 L1515.8 1045.9 L1531.5 1044.0 L1543.5 1042.6 L1551.4 1041.6 L1556.1 1041.1 L1558.1 1040.9 L1557.6 1037.9 L1556.6 1038.1 L1554.8 1038.4 L1553.0 1038.8 L1551.6 1039.1 L1552.6 1042.2 L1555.1 1042.1 L1560.2 1041.5 L1567.9 1040.7 L1577.6 1039.7 L1588.8 1038.4 L1601.1 1037.1 L1614.2 1035.6 L1627.5 1034.2 L1640.8 1032.7 L1653.5 1031.3 L1665.3 1030.0 L1675.9 1028.8 L1684.6 1027.8 L1691.3 1027.1 L1691.1 1025.1 L1684.4 1025.8 L1675.6 1026.7 L1665.1 1027.8 L1653.3 1029.0 L1640.5 1030.3 L1627.3 1031.6 L1613.9 1033.0 L1600.9 1034.3 L1588.5 1035.6 L1577.3 1036.7 L1567.6 1037.7 L1559.8 1038.5 L1554.8 1038.9 L1552.5 1039.1 L1552.9 1042.0 L1553.6 1041.9 L1555.4 1041.6 L1557.2 1041.2 L1558.6 1041.0 L1557.9 1037.7 L1555.8 1037.9 L1551.1 1038.4 L1543.1 1039.2 L1531.1 1040.6 L1515.4 1042.4 L1496.7 1044.7 L1475.4 1047.3 L1451.9 1050.2 L1426.4 1053.4 L1399.2 1056.7 L1370.7 1060.2 L1341.2 1063.7 L1311.1 1067.3 L1280.6 1070.9 L1250.0 1074.4 L1219.8 1077.8 L1187.8 1081.4 L1152.5 1085.2 L1114.7 1089.1 L1075.4 1093.2 L1035.5 1097.4 L995.7 1101.5 L957.0 1105.4 L920.2 1109.1 L886.3 1112.6 L856.1 1115.6 L830.5 1118.2 L810.4 1120.3 Z" fill="#6b6b6b" stroke="none"/>
<path d="M619.9 837.2 L619.9 836.5 L619.9 835.7 L619.9 834.7 L619.9 833.5 L619.8 832.3 L619.8 831.1 L619.9 829.8 L620.0 828.5 L620.3 827.3 L620.6 826.1 L621.1 825.1 L621.8 824.2 L622.6 823.3 L623.5 822.4 L624.5 821.5 L625.5 820.7 L626.7 819.9 L628.0 819.1 L629.4 818.4 L631.0 817.6 L632.7 816.9 L634.6 816.3 L636.6 815.6 L638.8 815.0 L641.3 814.4 L643.9 813.8 L646.6 813.2 L649.5 812.6 L652.6 812.0 L655.8 811.5 L659.1 811.0 L662.5 810.6 L666.1 810.2 L669.7 809.9 L673.4 809.7 L677.2 809.6 L681.3 809.6 L685.7 809.8 L690.5 810.1 L695.5 810.5 L700.6 810.9 L705.7 811.4 L710.7 811.9 L715.6 812.4 L720.2 812.7 L724.4 813.0 L728.2 813.1 L731.4 813.0 L734.0 812.8 L736.1 812.5 L737.8 812.2 L739.3 811.8 L740.5 811.2 L741.5 810.4 L742.3 809.6 L742.9 808.8 L743.5 807.9 L744.2 807.0 L745.0 806.0 L746.2 804.7 L747.7 803.1 L749.3 801.2 L751.0 799.1 L752.7 796.8 L754.4 794.4 L756.1 791.9 L757.9 789.5 L759.6 787.1 L761.2 784.9 L762.8 782.9 L764.3 781.2 L765.6 779.9 L766.9 778.8 L768.0 777.9 L769.0 777.1 L770.0 776.5 L770.9 776.1 L771.8 775.7 L772.6 775.4 L773.5 775.2 L774.4 775.1 L775.4 775.0 L776.5 774.9 L777.7 774.8 L779.0 774.8 L780.3 774.7 L781.7 774.7 L783.0 774.8 L784.3 774.9 L785.7 775.1 L787.0 775.3 L788.3 775.7 L789.7 776.2 L791.0 776.8 L792.2 777.5 L793.5 778.4 L794.8 779.4 L796.1 780.7 L797.4 782.3 L798.8 783.9 L800.1 785.8 L801.5 787.7 L803.0 789.8 L804.4 791.9 L805.9 794.0 L807.4 796.1 L808.9 798.2 L810.4 800.2 L811.9 802.0 L813.4 803.7 L814.7 805.3 L816.1 806.9 L817.4 808.5 L818.8 810.2 L820.3 811.9 L821.9 813.8 L823.6 815.8 L825.4 818.1 L827.5 820.6 L829.8 823.4 L832.3 826.5 L835.1 829.9 L838.1 833.4 L841.2 837.2 L844.5 841.1 L847.9 845.2 L851.3 849.4 L854.8 853.7 L858.2 858.1 L861.7 862.5 L865.0 867.0 L868.3 871.5 L871.5 876.1 L874.9 881.0 L878.4 886.0 L881.9 891.3 L885.4 896.6 L888.8 901.9 L892.2 907.2 L895.5 912.4 L898.6 917.5 L901.6 922.3 L904.3 926.9 L906.7 931.1 L909.0 935.1 L911.0 938.9 L912.9 942.5 L914.6 946.0 L916.2 949.3 L917.7 952.5 L919.0 955.6 L920.2 958.5 L921.3 961.3 L922.2 964.0 L923.1 966.7 L923.9 969.2 L924.6 971.6 L925.1 973.8 L925.4 975.8 L925.7 977.6 L925.8 979.4 L925.9 981.1 L925.8 982.7 L925.7 984.3 L925.6 986.0 L925.3 987.7 L925.0 989.4 L924.7 991.3 L924.4 993.3 L924.1 995.3 L923.7 997.4 L923.3 999.4 L922.9 1001.5 L922.3 1003.4 L921.7 1005.3 L921.0 1007.1 L920.1 1008.8 L919.2 1010.3 L918.1 1011.7 L916.9 1012.9 L915.5 1013.9 L913.9 1014.7 L912.1 1015.4 L910.1 1016.1 L907.8 1016.6 L905.4 1017.1 L902.9 1017.6 L900.2 1018.1 L897.4 1018.7 L894.6 1019.3 L891.7 1020.2 L888.8 1021.1 L885.8 1022.3 L882.7 1023.4 L879.4 1024.7 L876.0 1026.0 L872.6 1027.4 L869.1 1028.8 L865.6 1030.3 L862.2 1031.8 L858.9 1033.4 L855.8 1034.9 L852.8 1036.4 L849.9 1037.9 L847.3 1039.5 L844.7 1041.2 L842.3 1042.9 L840.0 1044.7 L837.8 1046.5 L835.7 1048.2 L833.7 1049.9 L831.8 1051.4 L830.0 1052.8 L828.3 1054.0 L826.7 1055.0 L825.3 1055.7 L823.9 1056.2 L822.6 1056.4 L821.4 1056.5 L820.3 1056.4 L819.1 1056.2 L818.1 1055.9 L817.1 1055.6 L816.1 1055.2 L815.2 1054.8 L814.3 1054.4 L813.5 1054.1 L812.8 1053.9 L812.0 1056.9 L812.6 1057.0 L813.1 1057.2 L813.9 1057.6 L814.8 1058.0 L815.9 1058.5 L817.1 1059.0 L818.4 1059.3 L819.8 1059.6 L821.4 1059.8 L823.0 1059.7 L824.7 1059.5 L826.5 1058.9 L828.4 1058.1 L830.2 1057.0 L832.1 1055.8 L834.0 1054.4 L836.0 1052.9 L838.1 1051.3 L840.2 1049.6 L842.4 1048.0 L844.7 1046.3 L847.1 1044.7 L849.5 1043.2 L852.1 1041.9 L854.8 1040.5 L857.8 1039.1 L860.9 1037.7 L864.2 1036.3 L867.6 1034.9 L871.0 1033.5 L874.5 1032.1 L877.9 1030.7 L881.2 1029.4 L884.5 1028.1 L887.6 1026.9 L890.4 1025.9 L893.1 1024.9 L895.8 1024.2 L898.5 1023.6 L901.2 1023.0 L903.8 1022.5 L906.4 1022.0 L908.9 1021.5 L911.4 1020.9 L913.7 1020.2 L916.0 1019.3 L918.1 1018.1 L920.1 1016.7 L921.8 1015.1 L923.3 1013.2 L924.5 1011.3 L925.5 1009.2 L926.4 1007.1 L927.1 1004.9 L927.7 1002.7 L928.2 1000.5 L928.6 998.3 L929.0 996.1 L929.3 994.1 L929.7 992.1 L930.0 990.2 L930.3 988.4 L930.5 986.6 L930.7 984.8 L930.8 982.9 L930.9 981.1 L930.8 979.1 L930.7 977.1 L930.4 975.0 L930.0 972.7 L929.4 970.4 L928.7 967.8 L927.9 965.1 L927.0 962.4 L926.0 959.6 L924.8 956.6 L923.6 953.6 L922.2 950.5 L920.8 947.2 L919.1 943.8 L917.4 940.3 L915.4 936.6 L913.3 932.7 L911.1 928.7 L908.6 924.4 L905.8 919.7 L902.9 914.8 L899.7 909.8 L896.4 904.5 L893.0 899.2 L889.5 893.8 L886.0 888.5 L882.5 883.3 L879.0 878.1 L875.6 873.2 L872.3 868.5 L869.0 864.0 L865.6 859.5 L862.2 855.0 L858.7 850.6 L855.2 846.2 L851.7 842.0 L848.3 837.9 L845.1 834.0 L841.9 830.2 L838.9 826.7 L836.2 823.3 L833.6 820.2 L831.3 817.4 L829.3 814.9 L827.4 812.6 L825.7 810.6 L824.1 808.7 L822.6 807.0 L821.2 805.3 L819.9 803.7 L818.6 802.1 L817.2 800.5 L815.8 798.8 L814.4 797.0 L812.9 795.1 L811.4 793.2 L810.0 791.1 L808.5 789.0 L807.1 786.9 L805.6 784.9 L804.2 782.8 L802.7 780.9 L801.2 779.0 L799.7 777.3 L798.1 775.8 L796.5 774.4 L794.8 773.3 L793.1 772.4 L791.5 771.7 L789.8 771.1 L788.1 770.6 L786.4 770.3 L784.8 770.1 L783.2 770.0 L781.7 770.0 L780.2 770.0 L778.8 770.1 L777.5 770.2 L776.2 770.3 L775.0 770.4 L773.8 770.6 L772.6 770.8 L771.4 771.1 L770.2 771.5 L769.0 772.0 L767.8 772.6 L766.5 773.4 L765.3 774.3 L764.0 775.4 L762.6 776.7 L761.1 778.3 L759.5 780.2 L757.8 782.3 L756.2 784.6 L754.5 787.1 L752.8 789.5 L751.1 792.0 L749.4 794.4 L747.8 796.7 L746.2 798.8 L744.7 800.6 L743.4 802.1 L742.2 803.4 L741.2 804.7 L740.4 805.7 L739.8 806.6 L739.4 807.2 L739.0 807.7 L738.5 808.0 L737.9 808.3 L736.9 808.6 L735.5 808.9 L733.6 809.2 L731.2 809.4 L728.2 809.5 L724.5 809.5 L720.4 809.3 L715.8 809.1 L711.0 808.7 L706.0 808.3 L700.8 807.9 L695.7 807.6 L690.7 807.2 L685.8 807.0 L681.3 806.9 L677.2 807.0 L673.3 807.2 L669.5 807.5 L665.8 807.9 L662.3 808.3 L658.8 808.8 L655.4 809.3 L652.2 809.9 L649.1 810.6 L646.2 811.2 L643.4 811.9 L640.8 812.5 L638.4 813.2 L636.1 813.9 L634.0 814.6 L632.1 815.3 L630.3 816.1 L628.7 816.9 L627.2 817.7 L625.8 818.6 L624.6 819.4 L623.5 820.3 L622.4 821.3 L621.5 822.2 L620.6 823.2 L619.9 824.4 L619.3 825.6 L618.9 827.0 L618.7 828.3 L618.5 829.7 L618.5 831.0 L618.5 832.3 L618.6 833.6 L618.7 834.7 L618.7 835.7 L618.7 836.5 L618.7 837.2 Z" fill="#6b6b6b" stroke="none"/>
<path d="M654.7 847.3 L654.0 846.5 L653.0 845.5 L651.9 844.3 L650.6 842.9 L649.3 841.4 L647.9 839.9 L646.5 838.3 L645.2 836.8 L644.0 835.3 L643.0 834.0 L642.2 832.8 L641.6 831.8 L641.2 830.9 L640.7 830.0 L640.3 829.3 L640.1 828.6 L639.9 828.2 L639.9 827.9 L639.9 827.8 L640.0 827.6 L640.3 827.4 L640.8 827.0 L641.7 826.6 L643.0 826.2 L644.6 825.7 L646.6 825.2 L648.8 824.7 L651.3 824.2 L654.0 823.7 L656.9 823.3 L660.0 822.9 L663.2 822.5 L666.6 822.1 L670.1 821.8 L673.6 821.6 L677.2 821.5 L681.1 821.6 L685.5 821.8 L690.2 822.1 L695.1 822.5 L700.2 823.0 L705.4 823.5 L710.5 824.0 L715.4 824.5 L720.0 824.9 L724.3 825.2 L728.1 825.4 L731.3 825.4 L733.9 825.4 L735.9 825.3 L737.6 825.2 L738.9 825.0 L740.1 824.7 L741.2 824.3 L742.1 823.7 L742.9 823.0 L743.6 822.3 L744.3 821.5 L745.1 820.6 L746.3 819.4 L747.8 817.9 L749.4 816.0 L751.0 813.9 L752.7 811.6 L754.4 809.2 L756.1 806.8 L757.8 804.3 L759.5 801.9 L761.2 799.6 L762.7 797.6 L764.2 795.8 L765.6 794.4 L767.0 793.1 L768.3 792.0 L769.5 791.1 L770.7 790.2 L771.9 789.5 L773.0 788.9 L774.1 788.4 L775.2 787.9 L776.4 787.6 L777.5 787.3 L778.6 787.1 L779.8 786.9 L780.9 786.8 L782.0 786.8 L783.1 786.8 L784.2 786.9 L785.3 787.1 L786.4 787.4 L787.5 787.7 L788.7 788.1 L789.9 788.7 L791.1 789.3 L792.4 790.0 L793.8 790.9 L795.2 791.9 L796.7 793.1 L798.3 794.4 L800.1 795.9 L801.9 797.4 L803.7 799.1 L805.5 800.8 L807.2 802.4 L808.9 804.0 L810.5 805.6 L812.0 807.0 L813.3 808.2 L814.6 809.4 L815.7 810.5 L816.8 811.5 L817.8 812.5 L818.7 813.5 L819.6 814.4 L820.4 815.2 L821.1 816.0 L821.8 816.7 L822.4 817.4 L822.9 817.9 L823.3 818.4 L824.5 817.4 L824.1 816.9 L823.6 816.3 L823.0 815.6 L822.4 814.9 L821.8 814.0 L821.0 813.1 L820.2 812.1 L819.4 811.1 L818.4 810.0 L817.4 808.8 L816.4 807.6 L815.3 806.4 L814.0 805.0 L812.7 803.5 L811.2 801.8 L809.7 800.1 L808.0 798.3 L806.4 796.4 L804.6 794.6 L802.9 792.8 L801.2 791.1 L799.5 789.6 L797.9 788.3 L796.2 787.1 L794.7 786.2 L793.3 785.4 L791.8 784.6 L790.4 784.0 L789.0 783.5 L787.6 783.0 L786.2 782.7 L784.8 782.5 L783.4 782.4 L782.0 782.3 L780.6 782.4 L779.2 782.5 L777.8 782.7 L776.5 783.0 L775.1 783.3 L773.8 783.8 L772.4 784.3 L771.0 784.9 L769.7 785.7 L768.3 786.5 L766.9 787.5 L765.5 788.6 L764.1 789.9 L762.6 791.2 L761.0 792.9 L759.3 794.9 L757.7 797.0 L756.0 799.4 L754.3 801.8 L752.6 804.3 L750.9 806.7 L749.2 809.1 L747.6 811.3 L746.1 813.3 L744.6 815.0 L743.3 816.4 L742.1 817.6 L741.1 818.6 L740.4 819.4 L739.9 820.0 L739.5 820.3 L739.2 820.5 L738.9 820.7 L738.2 820.8 L737.2 820.9 L735.7 821.0 L733.8 821.1 L731.3 821.2 L728.2 821.2 L724.5 821.0 L720.3 820.7 L715.7 820.3 L710.9 819.8 L705.8 819.3 L700.6 818.9 L695.5 818.4 L690.5 818.0 L685.7 817.7 L681.2 817.5 L677.2 817.5 L673.4 817.6 L669.8 817.8 L666.2 818.1 L662.7 818.5 L659.4 818.9 L656.3 819.5 L653.3 820.1 L650.6 820.7 L648.0 821.4 L645.7 822.0 L643.7 822.6 L642.0 823.2 L640.5 823.8 L639.4 824.5 L638.4 825.1 L637.7 826.0 L637.2 826.9 L637.1 827.9 L637.2 828.9 L637.5 829.7 L637.9 830.5 L638.4 831.3 L638.9 832.1 L639.4 833.0 L640.1 834.2 L641.1 835.4 L642.2 836.8 L643.5 838.3 L645.0 839.8 L646.4 841.3 L647.9 842.7 L649.3 844.2 L650.7 845.4 L651.9 846.6 L652.8 847.6 L653.5 848.3 Z" fill="#6b6b6b" stroke="none"/>
<path d="M923.8 970.3 L923.6 971.9 L923.4 973.9 L923.2 976.3 L923.0 978.9 L922.7 981.8 L922.4 984.8 L922.1 987.9 L921.7 990.9 L921.2 993.8 L920.7 996.5 L920.2 998.9 L919.6 1001.0 L918.9 1002.8 L918.3 1004.5 L917.6 1006.0 L916.9 1007.3 L916.2 1008.6 L915.4 1009.7 L914.5 1010.8 L913.5 1011.8 L912.4 1012.8 L911.2 1013.8 L909.8 1014.7 L908.3 1015.7 L906.6 1016.7 L904.6 1017.5 L902.5 1018.3 L900.2 1019.0 L897.7 1019.6 L895.2 1020.3 L892.6 1021.0 L889.9 1021.7 L887.2 1022.4 L884.5 1023.3 L881.9 1024.2 L879.4 1025.3 L876.9 1026.5 L874.4 1027.7 L871.9 1029.0 L869.4 1030.4 L866.8 1031.8 L864.3 1033.3 L861.8 1034.8 L859.3 1036.3 L856.9 1037.9 L854.6 1039.6 L852.4 1041.2 L850.3 1043.0 L848.3 1044.8 L846.4 1046.9 L844.7 1049.1 L843.0 1051.3 L841.5 1053.6 L840.0 1055.8 L838.5 1058.0 L837.1 1060.1 L835.6 1061.9 L834.2 1063.6 L832.7 1064.9 L831.2 1066.0 L829.6 1066.7 L827.8 1067.2 L825.9 1067.5 L824.0 1067.6 L822.0 1067.5 L820.0 1067.3 L818.0 1067.1 L816.2 1066.8 L814.5 1066.4 L812.9 1066.2 L811.5 1066.0 L810.5 1065.9 L810.3 1067.9 L811.3 1068.0 L812.6 1068.2 L814.1 1068.4 L815.8 1068.8 L817.7 1069.1 L819.7 1069.4 L821.8 1069.6 L824.0 1069.6 L826.1 1069.6 L828.2 1069.3 L830.3 1068.7 L832.2 1067.8 L834.0 1066.6 L835.7 1065.1 L837.3 1063.3 L838.8 1061.3 L840.3 1059.2 L841.8 1057.0 L843.3 1054.8 L844.8 1052.6 L846.4 1050.4 L848.1 1048.3 L849.8 1046.4 L851.7 1044.6 L853.8 1043.0 L855.9 1041.4 L858.2 1039.8 L860.5 1038.2 L863.0 1036.7 L865.4 1035.2 L867.9 1033.8 L870.5 1032.4 L873.0 1031.1 L875.5 1029.8 L878.0 1028.6 L880.4 1027.5 L882.8 1026.5 L885.3 1025.5 L887.9 1024.7 L890.5 1024.0 L893.2 1023.3 L895.8 1022.7 L898.4 1022.0 L900.9 1021.3 L903.3 1020.6 L905.5 1019.8 L907.6 1018.9 L909.5 1017.9 L911.2 1016.8 L912.7 1015.7 L914.0 1014.6 L915.2 1013.5 L916.2 1012.3 L917.2 1011.0 L918.0 1009.7 L918.8 1008.3 L919.5 1006.8 L920.2 1005.2 L920.8 1003.5 L921.4 1001.6 L922.0 999.4 L922.5 996.8 L922.9 994.1 L923.3 991.1 L923.6 988.0 L923.8 984.9 L924.1 981.9 L924.2 979.0 L924.4 976.4 L924.5 974.0 L924.7 972.0 L924.8 970.5 Z" fill="#6b6b6b" stroke="none"/>
<path d="M1722.8 759.5 C1715.2 757.0 1692.4 748.3 1677.2 744.3 C1662.0 740.3 1640.5 736.4 1631.6 735.4 C1622.7 734.4 1625.7 736.5 1624.0 738.0 C1622.3 739.5 1621.5 737.8 1621.5 744.3 C1621.5 750.8 1623.2 763.3 1624.0 777.2 C1624.8 791.1 1627.0 810.9 1626.6 827.8 C1626.2 844.7 1623.6 863.7 1621.5 878.5 C1619.4 893.3 1615.6 907.2 1613.9 916.5 C1612.2 925.8 1610.6 929.2 1611.4 934.2 C1612.2 939.2 1612.2 944.1 1619.0 946.8 C1625.8 949.5 1629.5 949.8 1651.9 950.6 C1674.3 951.5 1723.7 951.3 1753.2 951.9 C1782.7 952.5 1805.5 954.4 1829.1 954.4 C1852.7 954.4 1881.4 953.2 1894.9 951.9 C1908.4 950.6 1906.7 949.3 1910.1 946.8 C1913.5 944.3 1914.8 940.5 1915.2 936.7 C1915.6 932.9 1914.2 931.7 1912.7 924.1 C1911.2 916.5 1907.1 902.9 1906.0 891.1 C1904.9 879.3 1904.0 865.9 1906.0 853.2 C1908.0 840.6 1914.1 826.6 1917.7 815.2 C1921.3 803.8 1926.1 789.9 1927.8 784.8" fill="none" stroke="#6b6b6b" stroke-width="5.20"/>
<path d="M1637.3 752.0 L1637.3 751.4 L1636.9 751.0 L1636.3 750.5 L1635.8 750.1 L1635.3 749.6 L1635.0 749.3 L1635.0 749.3 L1634.9 749.4 L1635.5 749.3 L1636.8 749.3 L1638.8 749.5 L1641.7 750.0 L1645.4 750.8 L1649.8 751.9 L1654.8 753.1 L1660.4 754.6 L1666.4 756.2 L1672.9 758.0 L1679.8 759.7 L1687.0 761.5 L1694.4 763.3 L1702.0 764.9 L1709.8 766.5 L1717.6 767.8 L1725.7 769.1 L1734.4 770.4 L1743.5 771.6 L1753.0 772.9 L1762.8 774.0 L1772.7 775.2 L1782.6 776.3 L1792.4 777.3 L1802.1 778.3 L1811.5 779.2 L1820.5 779.9 L1829.0 780.6 L1837.4 781.2 L1845.8 781.6 L1854.2 781.9 L1862.6 782.1 L1870.7 782.4 L1878.6 782.5 L1886.2 782.6 L1893.2 782.8 L1899.8 783.0 L1905.6 783.2 L1910.8 783.5 L1915.1 783.9 L1918.5 784.3 L1921.1 784.6 L1922.9 784.8 L1923.9 785.0 L1924.1 785.0 L1923.5 784.1 L1923.5 783.6 L1923.2 784.0 L1922.7 784.9 L1922.0 786.1 L1921.4 787.7 L1921.1 789.6 L1920.7 791.7 L1920.2 794.2 L1919.4 797.0 L1918.4 800.2 L1917.3 803.6 L1916.1 807.2 L1914.8 810.8 L1913.4 814.4 L1912.1 817.9 L1910.8 821.2 L1909.6 824.3 L1908.5 827.1 L1907.4 829.6 L1906.3 831.8 L1905.2 833.9 L1904.0 835.8 L1902.8 837.7 L1901.7 839.6 L1900.5 841.5 L1899.4 843.4 L1898.4 845.5 L1897.4 847.7 L1896.5 850.2 L1895.8 852.8 L1895.2 855.6 L1894.7 858.5 L1894.2 861.6 L1893.8 864.7 L1893.5 868.0 L1893.2 871.3 L1893.1 874.6 L1893.0 878.0 L1892.9 881.3 L1893.0 884.7 L1893.1 888.0 L1893.3 891.2 L1893.6 894.6 L1894.1 898.0 L1894.9 901.5 L1895.7 905.1 L1896.7 908.6 L1897.6 912.0 L1898.6 915.4 L1899.5 918.6 L1900.2 921.6 L1900.8 924.4 L1901.2 926.9 L1901.4 929.1 L1901.3 931.0 L1901.1 932.6 L1900.6 934.0 L1900.0 935.2 L1899.3 936.3 L1898.6 937.2 L1897.8 938.1 L1897.0 938.8 L1896.2 939.5 L1895.5 940.1 L1894.8 940.8 L1894.4 941.3 L1895.6 942.3 L1896.0 941.8 L1896.5 941.3 L1897.2 940.7 L1898.0 940.1 L1898.9 939.3 L1899.9 938.4 L1900.8 937.4 L1901.6 936.1 L1902.4 934.7 L1903.0 933.1 L1903.4 931.2 L1903.6 929.1 L1903.5 926.7 L1903.2 924.0 L1902.7 921.1 L1902.0 918.0 L1901.3 914.7 L1900.5 911.3 L1899.7 907.8 L1898.9 904.3 L1898.2 900.8 L1897.6 897.4 L1897.1 894.1 L1896.7 891.0 L1896.6 887.8 L1896.5 884.6 L1896.4 881.3 L1896.5 878.0 L1896.6 874.7 L1896.7 871.5 L1897.0 868.3 L1897.3 865.1 L1897.7 862.0 L1898.1 859.1 L1898.6 856.3 L1899.2 853.6 L1899.9 851.2 L1900.6 849.0 L1901.5 847.0 L1902.5 845.1 L1903.5 843.2 L1904.7 841.4 L1905.8 839.6 L1907.0 837.6 L1908.2 835.6 L1909.4 833.4 L1910.6 831.0 L1911.7 828.5 L1912.8 825.6 L1914.1 822.5 L1915.4 819.1 L1916.7 815.6 L1918.1 812.0 L1919.4 808.3 L1920.6 804.7 L1921.7 801.3 L1922.7 798.0 L1923.6 795.0 L1924.2 792.4 L1924.5 790.2 L1924.8 788.6 L1925.2 787.5 L1925.7 786.6 L1926.1 785.8 L1926.6 785.1 L1926.9 783.7 L1925.9 782.1 L1924.7 781.7 L1923.3 781.5 L1921.4 781.3 L1918.8 781.0 L1915.3 780.7 L1911.0 780.4 L1905.7 780.2 L1899.8 780.1 L1893.3 780.1 L1886.2 780.1 L1878.6 780.1 L1870.8 780.1 L1862.6 780.1 L1854.3 779.9 L1845.9 779.7 L1837.5 779.3 L1829.2 778.8 L1820.7 778.1 L1811.7 777.3 L1802.3 776.5 L1792.6 775.6 L1782.8 774.6 L1772.9 773.5 L1763.0 772.4 L1753.2 771.2 L1743.8 770.1 L1734.6 768.8 L1725.9 767.6 L1717.8 766.4 L1710.0 765.0 L1702.3 763.5 L1694.7 761.9 L1687.3 760.1 L1680.1 758.4 L1673.3 756.7 L1666.8 755.0 L1660.7 753.4 L1655.1 751.9 L1650.1 750.6 L1645.7 749.6 L1641.9 748.8 L1639.0 748.3 L1636.8 748.1 L1635.4 748.1 L1634.4 748.3 L1633.8 749.0 L1634.0 749.8 L1634.4 750.4 L1635.0 751.0 L1635.6 751.4 L1636.0 751.8 L1636.2 752.0 L1636.1 751.8 Z" fill="#6b6b6b" stroke="none"/>
<path d="M1636.7 751.9 C1636.5 756.1 1635.8 760.3 1635.4 777.2 C1635.0 794.1 1635.2 832.1 1634.2 853.2 C1633.2 874.3 1630.2 891.1 1629.1 903.8 C1628.0 916.4 1626.5 923.0 1627.8 929.1 C1629.1 935.2 1615.8 938.2 1636.7 940.5 C1657.6 942.8 1710.2 942.6 1753.2 943.0 C1796.2 943.4 1871.3 943.0 1894.9 943.0" fill="none" stroke="#6b6b6b" stroke-width="2.00"/>
<path d="M1722.8 759.5 C1727.9 759.7 1735.5 759.9 1753.2 760.8 C1770.9 761.6 1805.5 763.3 1829.1 764.6 C1852.7 765.9 1879.3 767.6 1894.9 768.4 C1910.5 769.2 1916.9 768.1 1922.8 769.6 C1928.7 771.1 1928.7 774.2 1930.4 777.2 C1932.1 780.2 1928.7 785.0 1932.9 787.3 C1937.1 789.6 1934.5 788.6 1955.7 791.1 C1976.9 793.6 2027.6 799.2 2060.0 802.5 C2092.4 805.8 2124.2 808.8 2150.0 811.0 C2175.8 813.2 2200.0 814.5 2215.0 815.5 C2230.0 816.5 2233.2 816.7 2240.0 817.3 C2246.8 817.9 2251.6 818.0 2256.0 819.2 C2260.4 820.4 2263.8 822.2 2266.5 824.5 C2269.2 826.8 2271.2 829.6 2272.5 833.0 C2273.8 836.4 2274.0 838.8 2274.3 845.0 C2274.6 851.2 2274.4 846.8 2274.4 870.0 C2274.4 893.2 2274.6 965.4 2274.6 984.5 C2283.8 985.6 2312.4 988.9 2330.0 991.0 C2347.6 993.1 2364.2 995.1 2380.0 997.0 C2395.8 998.9 2409.8 1000.3 2424.6 1002.5 C2439.4 1004.7 2458.4 1007.1 2468.9 1010.1 C2479.4 1013.1 2483.6 1017.5 2487.8 1020.3 C2492.0 1023.0 2491.0 1024.7 2494.2 1026.6 C2497.4 1028.5 2502.6 1029.1 2506.8 1031.6 C2511.0 1034.1 2516.5 1038.2 2519.5 1041.8 C2522.5 1045.4 2523.3 1047.5 2524.6 1053.2 C2525.9 1058.9 2526.5 1063.1 2527.1 1075.9 C2527.7 1088.8 2529.0 1112.2 2528.3 1130.3 C2527.6 1148.4 2526.0 1170.8 2522.9 1184.5 C2519.8 1198.2 2515.0 1205.5 2509.9 1212.8 C2504.8 1220.0 2498.5 1224.3 2492.5 1228.0 C2486.5 1231.7 2487.4 1230.6 2473.7 1235.2 C2460.0 1239.8 2456.0 1244.6 2410.4 1255.4 C2364.8 1266.2 2246.4 1290.2 2200.0 1300.0 C2153.6 1309.8 2147.0 1311.2 2132.0 1314.0 C2117.0 1316.8 2118.7 1317.2 2110.0 1316.5 C2101.3 1315.8 2092.9 1312.8 2080.0 1310.0 C2067.1 1307.2 2097.1 1313.5 2032.6 1300.0 C1968.1 1286.5 1749.8 1240.8 1693.2 1228.9" fill="none" stroke="#6b6b6b" stroke-width="7.20"/>
<path d="M1894.6 954.0 L1897.1 954.4 L1899.6 954.9 L1902.1 955.5 L1904.9 956.1 L1908.2 956.8 L1912.1 957.6 L1916.9 958.5 L1922.7 959.5 L1929.7 960.6 L1938.1 961.8 L1948.0 963.1 L1959.7 964.6 L1974.1 966.4 L1991.4 968.5 L2011.1 970.8 L2032.7 973.3 L2055.4 976.0 L2078.7 978.6 L2102.1 981.3 L2124.9 983.8 L2146.5 986.2 L2166.4 987.9 L2184.0 989.0 L2198.6 989.8 L2210.6 990.6 L2220.9 991.1 L2229.8 991.4 L2237.3 991.5 L2243.6 991.4 L2248.9 991.1 L2253.4 990.8 L2257.3 990.4 L2260.6 990.1 L2263.6 989.8 L2266.4 989.5 L2269.2 989.4 L2269.2 987.0 L2266.3 987.0 L2263.4 987.2 L2260.3 987.5 L2257.0 987.9 L2253.2 988.2 L2248.8 988.5 L2243.5 988.7 L2237.3 988.7 L2229.8 988.6 L2221.1 988.3 L2210.8 987.6 L2198.8 986.6 L2184.3 984.8 L2166.9 982.6 L2147.1 980.3 L2125.5 978.1 L2102.7 975.7 L2079.3 973.3 L2056.0 970.8 L2033.2 968.3 L2011.7 965.9 L1992.0 963.8 L1974.6 961.8 L1960.3 960.2 L1948.6 958.8 L1938.6 957.5 L1930.3 956.4 L1923.4 955.3 L1917.6 954.4 L1912.9 953.6 L1909.0 952.8 L1905.8 952.1 L1903.0 951.5 L1900.4 951.0 L1897.9 950.5 L1895.2 950.0 Z" fill="#6b6b6b" stroke="none"/>
<path d="M2201.7 986.0 L2201.7 982.0 L2201.7 976.8 L2201.6 970.6 L2201.6 963.7 L2201.6 956.3 L2201.5 948.4 L2201.5 940.4 L2201.5 932.4 L2201.5 924.7 L2201.5 917.4 L2201.5 910.7 L2201.5 904.8 L2201.6 899.5 L2201.6 894.5 L2201.6 889.7 L2201.7 885.1 L2201.8 880.7 L2201.8 876.6 L2201.9 872.7 L2202.0 869.0 L2202.2 865.6 L2202.4 862.3 L2202.6 859.3 L2202.8 856.5 L2203.1 854.0 L2203.4 851.8 L2203.7 849.9 L2204.0 848.4 L2204.3 847.0 L2204.6 845.8 L2205.0 844.8 L2205.4 843.8 L2205.9 842.8 L2206.4 841.8 L2207.0 840.7 L2207.7 839.4 L2208.4 838.2 L2209.1 836.9 L2209.9 835.7 L2210.7 834.4 L2211.5 833.2 L2212.3 831.9 L2213.2 830.8 L2214.0 829.6 L2215.0 828.6 L2215.9 827.6 L2216.8 826.7 L2217.7 825.8 L2218.6 825.1 L2219.6 824.5 L2220.7 823.9 L2221.9 823.3 L2223.1 822.8 L2224.4 822.4 L2225.6 822.0 L2226.7 821.6 L2227.8 821.3 L2228.8 821.0 L2229.6 820.7 L2230.3 820.5 L2229.7 818.5 L2229.1 818.7 L2228.2 818.9 L2227.3 819.1 L2226.2 819.3 L2224.9 819.5 L2223.6 819.8 L2222.3 820.1 L2220.9 820.5 L2219.5 821.0 L2218.1 821.5 L2216.8 822.2 L2215.5 823.0 L2214.4 823.8 L2213.2 824.7 L2212.1 825.7 L2211.0 826.8 L2209.8 827.9 L2208.7 829.1 L2207.7 830.4 L2206.6 831.6 L2205.7 833.0 L2204.8 834.4 L2204.0 835.8 L2203.3 837.2 L2202.7 838.5 L2202.1 839.6 L2201.6 840.8 L2201.1 841.9 L2200.6 843.1 L2200.2 844.4 L2199.8 845.8 L2199.4 847.4 L2199.1 849.2 L2198.8 851.2 L2198.6 853.5 L2198.4 856.1 L2198.2 859.0 L2198.1 862.1 L2198.0 865.4 L2197.9 868.9 L2197.9 872.7 L2197.9 876.6 L2197.9 880.7 L2197.9 885.1 L2198.0 889.7 L2198.1 894.5 L2198.2 899.5 L2198.3 904.8 L2198.4 910.7 L2198.6 917.4 L2198.8 924.7 L2199.1 932.5 L2199.3 940.4 L2199.6 948.4 L2199.9 956.3 L2200.1 963.8 L2200.4 970.7 L2200.6 976.8 L2200.8 982.0 L2200.9 986.0 Z" fill="#6b6b6b" stroke="none"/>
<path d="M2210.0 986.7 L2210.1 982.6 L2210.3 977.4 L2210.5 971.2 L2210.7 964.2 L2210.9 956.7 L2211.1 948.8 L2211.4 940.7 L2211.7 932.7 L2211.9 924.9 L2212.2 917.5 L2212.5 910.8 L2212.7 904.9 L2213.0 899.5 L2213.3 894.5 L2213.6 889.6 L2213.9 885.0 L2214.1 880.6 L2214.4 876.4 L2214.7 872.5 L2215.0 868.8 L2215.3 865.4 L2215.5 862.2 L2215.8 859.2 L2216.1 856.5 L2216.3 854.1 L2216.5 852.1 L2216.6 850.5 L2216.8 849.2 L2216.9 848.2 L2217.0 847.4 L2217.1 846.8 L2217.3 846.3 L2217.5 845.8 L2217.8 845.2 L2218.2 844.5 L2218.7 843.6 L2219.3 842.6 L2219.9 841.7 L2220.6 840.7 L2221.3 839.8 L2222.1 838.9 L2222.9 838.0 L2223.8 837.1 L2224.7 836.3 L2225.7 835.6 L2226.6 834.8 L2227.7 834.0 L2228.7 833.3 L2229.9 832.7 L2231.2 832.1 L2232.7 831.5 L2234.2 830.9 L2235.9 830.4 L2237.5 829.9 L2239.2 829.5 L2240.9 829.1 L2242.6 828.7 L2244.2 828.4 L2245.8 828.0 L2247.3 827.8 L2248.7 827.5 L2250.1 827.3 L2251.5 827.2 L2253.0 827.1 L2254.4 827.0 L2255.7 827.0 L2257.0 827.0 L2258.3 827.0 L2259.4 827.0 L2260.4 827.0 L2261.3 827.0 L2262.0 827.0 L2262.0 826.0 L2261.3 825.9 L2260.5 825.9 L2259.5 825.8 L2258.3 825.6 L2257.1 825.5 L2255.8 825.4 L2254.4 825.3 L2253.0 825.2 L2251.5 825.1 L2250.0 825.1 L2248.4 825.1 L2246.9 825.2 L2245.4 825.4 L2243.8 825.5 L2242.1 825.7 L2240.4 825.9 L2238.6 826.2 L2236.8 826.5 L2235.0 826.8 L2233.2 827.2 L2231.5 827.6 L2229.8 828.1 L2228.2 828.6 L2226.7 829.3 L2225.2 830.0 L2223.9 830.7 L2222.6 831.6 L2221.5 832.5 L2220.4 833.5 L2219.3 834.6 L2218.4 835.6 L2217.5 836.7 L2216.6 837.8 L2215.9 839.0 L2215.2 840.1 L2214.5 841.2 L2214.0 842.2 L2213.5 843.1 L2213.1 843.9 L2212.8 844.8 L2212.6 845.7 L2212.4 846.6 L2212.2 847.6 L2212.1 848.8 L2212.0 850.1 L2211.9 851.8 L2211.7 853.7 L2211.5 856.1 L2211.3 858.8 L2211.1 861.8 L2210.9 865.0 L2210.6 868.5 L2210.4 872.2 L2210.2 876.2 L2210.0 880.4 L2209.8 884.8 L2209.6 889.4 L2209.5 894.3 L2209.4 899.4 L2209.3 904.7 L2209.2 910.7 L2209.1 917.4 L2209.1 924.8 L2209.1 932.6 L2209.1 940.7 L2209.1 948.8 L2209.1 956.7 L2209.1 964.2 L2209.2 971.2 L2209.2 977.4 L2209.2 982.6 L2209.2 986.7 Z" fill="#6b6b6b" stroke="none"/>
<path d="M1693.5 1016.5 L1698.3 1017.4 L1704.2 1018.6 L1711.0 1020.0 L1718.7 1021.5 L1727.2 1023.2 L1736.1 1025.0 L1745.4 1026.9 L1755.0 1028.8 L1764.7 1030.7 L1774.3 1032.5 L1783.8 1034.4 L1792.8 1036.1 L1801.8 1037.8 L1810.9 1039.6 L1820.1 1041.3 L1829.5 1043.1 L1838.9 1044.9 L1848.4 1046.6 L1858.0 1048.4 L1867.6 1050.2 L1877.2 1051.9 L1886.8 1053.6 L1896.3 1055.3 L1905.8 1057.0 L1915.2 1058.6 L1924.7 1060.2 L1934.2 1061.9 L1943.7 1063.5 L1953.2 1065.1 L1962.7 1066.6 L1972.1 1068.2 L1981.6 1069.7 L1991.0 1071.2 L2000.3 1072.6 L2009.6 1074.0 L2018.7 1075.4 L2028.2 1076.8 L2038.1 1078.2 L2048.3 1079.6 L2058.6 1080.9 L2068.9 1082.3 L2079.0 1083.6 L2088.6 1084.8 L2097.7 1086.0 L2106.1 1087.0 L2113.5 1088.0 L2119.9 1088.8 L2125.0 1089.4 L2125.6 1085.0 L2120.5 1084.3 L2114.1 1083.6 L2106.6 1082.7 L2098.2 1081.7 L2089.1 1080.6 L2079.5 1079.5 L2069.4 1078.2 L2059.1 1077.0 L2048.8 1075.7 L2038.6 1074.4 L2028.7 1073.1 L2019.3 1071.8 L2010.1 1070.5 L2000.8 1069.1 L1991.5 1067.8 L1982.1 1066.3 L1972.7 1064.9 L1963.2 1063.4 L1953.7 1061.9 L1944.2 1060.4 L1934.7 1058.9 L1925.2 1057.3 L1915.7 1055.8 L1906.2 1054.2 L1896.8 1052.6 L1887.2 1051.0 L1877.7 1049.4 L1868.1 1047.7 L1858.4 1046.0 L1848.9 1044.3 L1839.3 1042.6 L1829.9 1040.9 L1820.5 1039.2 L1811.2 1037.6 L1802.1 1035.9 L1793.2 1034.3 L1784.1 1032.6 L1774.7 1030.9 L1765.0 1029.1 L1755.3 1027.2 L1745.7 1025.4 L1736.4 1023.7 L1727.4 1021.9 L1719.0 1020.3 L1711.3 1018.9 L1704.4 1017.5 L1698.5 1016.4 L1693.7 1015.5 Z" fill="#6b6b6b" stroke="none"/>
<path d="M1697.8 1024.6 L1701.3 1025.4 L1705.5 1026.3 L1710.4 1027.4 L1715.9 1028.6 L1721.9 1029.9 L1728.3 1031.3 L1735.1 1032.7 L1742.0 1034.2 L1749.1 1035.7 L1756.2 1037.2 L1763.2 1038.7 L1770.1 1040.2 L1776.9 1041.6 L1783.8 1043.0 L1790.9 1044.5 L1798.0 1045.9 L1805.3 1047.4 L1812.7 1048.9 L1820.2 1050.5 L1827.9 1052.0 L1835.8 1053.5 L1843.8 1055.1 L1852.0 1056.6 L1860.4 1058.2 L1869.0 1059.8 L1877.9 1061.4 L1887.0 1063.0 L1896.3 1064.6 L1905.8 1066.1 L1915.5 1067.6 L1925.2 1069.1 L1934.9 1070.6 L1944.7 1072.1 L1954.4 1073.6 L1964.0 1075.0 L1973.5 1076.4 L1983.2 1077.9 L1993.3 1079.3 L2003.7 1080.7 L2014.2 1082.1 L2024.7 1083.5 L2035.1 1084.9 L2045.2 1086.2 L2054.9 1087.5 L2064.0 1088.7 L2072.4 1089.8 L2079.9 1090.9 L2086.5 1091.9 L2092.0 1092.8 L2096.7 1093.7 L2100.5 1094.5 L2103.7 1095.2 L2106.4 1095.9 L2108.5 1096.5 L2110.3 1097.2 L2111.8 1097.8 L2113.2 1098.4 L2114.5 1099.0 L2116.0 1099.7 L2117.6 1100.4 L2119.2 1101.1 L2120.4 1101.6 L2121.4 1102.1 L2122.1 1102.4 L2122.5 1102.7 L2122.9 1103.0 L2123.1 1103.3 L2123.5 1103.8 L2123.9 1104.5 L2124.4 1105.5 L2125.0 1106.8 L2125.8 1108.4 L2126.7 1110.2 L2127.6 1112.1 L2128.6 1114.2 L2129.5 1116.4 L2130.5 1118.8 L2131.5 1121.4 L2132.5 1124.1 L2133.5 1127.0 L2134.5 1130.1 L2135.5 1133.4 L2136.4 1136.8 L2137.3 1140.4 L2138.2 1144.3 L2139.1 1148.5 L2140.1 1153.0 L2141.0 1157.7 L2141.9 1162.6 L2142.8 1167.6 L2143.7 1172.6 L2144.4 1177.7 L2145.1 1182.7 L2145.7 1187.6 L2146.1 1192.3 L2146.4 1196.9 L2146.5 1201.2 L2146.6 1205.5 L2146.5 1209.7 L2146.4 1213.9 L2146.1 1218.0 L2145.8 1222.1 L2145.4 1226.2 L2144.9 1230.2 L2144.4 1234.2 L2143.8 1238.1 L2143.2 1242.1 L2142.5 1246.0 L2141.8 1250.0 L2141.0 1254.0 L2140.2 1258.1 L2139.3 1262.2 L2138.3 1266.2 L2137.3 1270.2 L2136.2 1274.1 L2135.1 1277.9 L2134.0 1281.5 L2132.8 1284.9 L2131.7 1288.1 L2130.5 1291.1 L2129.2 1293.8 L2127.9 1296.3 L2126.4 1298.7 L2124.8 1301.0 L2123.2 1303.1 L2121.7 1305.0 L2120.1 1306.8 L2118.7 1308.5 L2117.3 1309.9 L2116.1 1311.3 L2115.0 1312.5 L2114.2 1313.5 L2115.4 1314.5 L2116.2 1313.5 L2117.2 1312.3 L2118.4 1311.0 L2119.8 1309.5 L2121.3 1307.9 L2122.9 1306.0 L2124.5 1304.1 L2126.2 1301.9 L2127.8 1299.6 L2129.3 1297.2 L2130.8 1294.5 L2132.1 1291.7 L2133.3 1288.8 L2134.5 1285.5 L2135.7 1282.1 L2136.9 1278.4 L2138.1 1274.6 L2139.2 1270.7 L2140.2 1266.7 L2141.3 1262.6 L2142.2 1258.5 L2143.1 1254.5 L2143.9 1250.4 L2144.7 1246.4 L2145.4 1242.4 L2146.0 1238.5 L2146.6 1234.5 L2147.2 1230.5 L2147.7 1226.4 L2148.2 1222.3 L2148.5 1218.2 L2148.8 1214.0 L2149.0 1209.8 L2149.1 1205.5 L2149.1 1201.2 L2149.0 1196.7 L2148.8 1192.1 L2148.4 1187.3 L2147.8 1182.4 L2147.2 1177.3 L2146.5 1172.2 L2145.7 1167.1 L2144.9 1162.1 L2144.0 1157.1 L2143.1 1152.4 L2142.2 1147.8 L2141.4 1143.6 L2140.5 1139.6 L2139.7 1136.0 L2138.8 1132.4 L2137.9 1129.1 L2137.0 1125.9 L2136.0 1123.0 L2135.0 1120.1 L2134.0 1117.5 L2133.1 1115.0 L2132.1 1112.6 L2131.2 1110.5 L2130.3 1108.5 L2129.4 1106.6 L2128.6 1105.1 L2128.0 1103.7 L2127.5 1102.7 L2127.0 1101.7 L2126.4 1100.9 L2125.8 1100.1 L2125.0 1099.4 L2124.2 1098.8 L2123.2 1098.3 L2122.2 1097.8 L2120.9 1097.2 L2119.4 1096.6 L2117.8 1095.8 L2116.4 1095.1 L2115.0 1094.4 L2113.5 1093.7 L2111.8 1093.0 L2109.9 1092.3 L2107.6 1091.6 L2104.9 1090.8 L2101.6 1090.0 L2097.6 1089.1 L2092.9 1088.1 L2087.3 1087.1 L2080.7 1086.0 L2073.2 1084.7 L2064.7 1083.4 L2055.6 1082.1 L2046.0 1080.7 L2035.9 1079.4 L2025.5 1078.0 L2015.0 1076.5 L2004.4 1075.1 L1994.1 1073.6 L1984.0 1072.2 L1974.3 1070.8 L1964.8 1069.3 L1955.2 1067.8 L1945.5 1066.3 L1935.8 1064.8 L1926.1 1063.3 L1916.4 1061.7 L1906.8 1060.2 L1897.3 1058.7 L1888.0 1057.2 L1878.8 1055.8 L1869.9 1054.4 L1861.2 1053.0 L1852.9 1051.6 L1844.6 1050.3 L1836.6 1048.9 L1828.7 1047.5 L1821.0 1046.2 L1813.4 1044.8 L1806.0 1043.5 L1798.7 1042.2 L1791.6 1040.9 L1784.5 1039.6 L1777.6 1038.3 L1770.7 1037.0 L1763.8 1035.8 L1756.7 1034.4 L1749.6 1033.1 L1742.5 1031.7 L1735.5 1030.4 L1728.8 1029.1 L1722.3 1027.9 L1716.3 1026.7 L1710.8 1025.6 L1705.8 1024.7 L1701.6 1023.8 L1698.2 1023.2 Z" fill="#6b6b6b" stroke="none"/>
<path d="M2125.3 1092.4 L2127.2 1092.5 L2129.5 1092.6 L2132.1 1092.8 L2135.1 1093.0 L2138.4 1093.2 L2141.9 1093.4 L2145.7 1093.6 L2149.6 1093.7 L2153.8 1093.8 L2158.1 1093.8 L2162.4 1093.8 L2166.9 1093.6 L2171.7 1093.3 L2176.9 1092.9 L2182.5 1092.4 L2188.4 1091.9 L2194.4 1091.2 L2200.5 1090.6 L2206.5 1089.9 L2212.4 1089.2 L2218.0 1088.6 L2223.3 1088.0 L2228.0 1087.4 L2232.2 1087.0 L2235.5 1086.6 L2237.9 1086.4 L2239.5 1086.2 L2240.6 1086.2 L2241.5 1086.1 L2242.4 1086.0 L2243.5 1085.9 L2245.1 1085.7 L2247.3 1085.3 L2250.4 1084.8 L2254.7 1084.1 L2260.4 1083.2 L2267.6 1082.0 L2276.3 1080.5 L2286.3 1078.8 L2297.1 1077.0 L2308.7 1075.1 L2320.7 1073.0 L2332.8 1070.9 L2344.8 1068.8 L2356.5 1066.8 L2367.6 1064.8 L2377.8 1063.0 L2386.9 1061.3 L2395.2 1059.8 L2403.0 1058.3 L2410.4 1056.8 L2417.4 1055.4 L2424.1 1054.0 L2430.4 1052.6 L2436.5 1051.4 L2442.2 1050.1 L2447.7 1049.0 L2452.9 1047.8 L2458.0 1046.8 L2462.8 1045.8 L2467.4 1044.7 L2471.7 1043.8 L2475.8 1042.8 L2479.6 1042.0 L2483.1 1041.2 L2486.4 1040.4 L2489.4 1039.7 L2492.2 1039.1 L2494.7 1038.5 L2496.9 1038.0 L2498.9 1037.6 L2500.6 1037.2 L2500.4 1036.2 L2498.7 1036.5 L2496.7 1036.9 L2494.4 1037.2 L2491.9 1037.7 L2489.1 1038.2 L2486.1 1038.7 L2482.8 1039.3 L2479.2 1039.9 L2475.3 1040.5 L2471.2 1041.3 L2466.8 1042.0 L2462.2 1042.8 L2457.4 1043.8 L2452.3 1044.8 L2447.1 1045.9 L2441.6 1047.0 L2435.8 1048.2 L2429.8 1049.4 L2423.4 1050.7 L2416.7 1052.0 L2409.7 1053.4 L2402.3 1054.8 L2394.5 1056.2 L2386.3 1057.7 L2377.2 1059.3 L2367.0 1061.0 L2355.9 1062.9 L2344.2 1064.9 L2332.1 1066.9 L2320.0 1068.9 L2308.0 1070.9 L2296.4 1072.8 L2285.6 1074.6 L2275.6 1076.2 L2266.9 1077.7 L2259.6 1078.8 L2254.0 1079.7 L2249.7 1080.4 L2246.6 1080.9 L2244.4 1081.2 L2242.9 1081.4 L2241.9 1081.6 L2241.1 1081.6 L2240.3 1081.7 L2239.1 1081.8 L2237.5 1081.9 L2235.1 1082.1 L2231.8 1082.4 L2227.5 1082.9 L2222.8 1083.4 L2217.5 1084.0 L2211.9 1084.7 L2206.0 1085.3 L2200.0 1085.9 L2193.9 1086.6 L2187.9 1087.2 L2182.1 1087.7 L2176.5 1088.2 L2171.4 1088.5 L2166.7 1088.8 L2162.3 1088.9 L2158.0 1089.0 L2153.8 1089.0 L2149.8 1088.9 L2145.9 1088.7 L2142.2 1088.5 L2138.7 1088.3 L2135.4 1088.1 L2132.5 1087.8 L2129.8 1087.6 L2127.5 1087.5 L2125.5 1087.4 Z" fill="#6b6b6b" stroke="none"/>
<path d="M2125.5 1100.6 L2127.5 1100.8 L2129.7 1101.0 L2132.4 1101.3 L2135.3 1101.6 L2138.6 1101.9 L2142.1 1102.2 L2145.8 1102.5 L2149.7 1102.7 L2153.8 1102.9 L2158.1 1103.0 L2162.4 1103.1 L2166.8 1103.0 L2171.6 1102.7 L2176.8 1102.4 L2182.4 1102.0 L2188.2 1101.5 L2194.3 1100.9 L2200.3 1100.3 L2206.4 1099.7 L2212.3 1099.1 L2217.9 1098.4 L2223.2 1097.8 L2227.9 1097.3 L2232.2 1096.8 L2235.6 1096.4 L2238.2 1096.0 L2240.1 1095.7 L2241.6 1095.5 L2242.9 1095.2 L2244.0 1095.0 L2245.3 1094.7 L2246.9 1094.3 L2249.0 1093.9 L2251.8 1093.4 L2255.5 1092.7 L2260.2 1091.9 L2266.2 1090.9 L2273.2 1089.8 L2281.0 1088.5 L2289.5 1087.1 L2298.6 1085.7 L2307.9 1084.2 L2317.5 1082.6 L2327.0 1081.0 L2336.3 1079.5 L2345.3 1077.9 L2353.8 1076.5 L2361.6 1075.1 L2368.9 1073.8 L2376.0 1072.6 L2383.0 1071.3 L2389.7 1070.1 L2396.3 1068.9 L2402.7 1067.7 L2409.0 1066.6 L2415.0 1065.5 L2420.9 1064.4 L2426.6 1063.3 L2432.2 1062.2 L2437.5 1061.2 L2442.7 1060.2 L2447.7 1059.2 L2452.6 1058.3 L2457.2 1057.4 L2461.7 1056.5 L2466.0 1055.6 L2470.1 1054.7 L2474.1 1053.9 L2477.8 1053.1 L2481.4 1052.2 L2484.8 1051.4 L2488.0 1050.7 L2491.1 1050.0 L2494.0 1049.4 L2496.7 1048.8 L2499.2 1048.3 L2501.6 1047.8 L2503.8 1047.3 L2505.8 1046.9 L2507.7 1046.5 L2509.3 1046.2 L2510.8 1045.9 L2512.1 1045.6 L2513.3 1045.4 L2513.1 1044.4 L2512.0 1044.6 L2510.6 1044.8 L2509.1 1045.0 L2507.4 1045.2 L2505.6 1045.4 L2503.5 1045.7 L2501.3 1046.0 L2498.9 1046.4 L2496.3 1046.8 L2493.6 1047.2 L2490.7 1047.6 L2487.6 1048.1 L2484.3 1048.6 L2480.8 1049.2 L2477.2 1049.8 L2473.4 1050.5 L2469.4 1051.3 L2465.3 1052.1 L2461.0 1053.0 L2456.5 1053.9 L2451.9 1054.9 L2447.1 1055.8 L2442.1 1056.8 L2436.9 1057.8 L2431.5 1058.8 L2426.0 1059.8 L2420.3 1060.9 L2414.4 1062.0 L2408.3 1063.1 L2402.1 1064.3 L2395.7 1065.5 L2389.1 1066.7 L2382.3 1067.9 L2375.4 1069.1 L2368.3 1070.4 L2361.0 1071.7 L2353.2 1073.0 L2344.7 1074.5 L2335.8 1076.0 L2326.4 1077.6 L2316.9 1079.2 L2307.4 1080.8 L2298.0 1082.5 L2289.0 1084.0 L2280.5 1085.5 L2272.7 1086.8 L2265.7 1088.0 L2259.8 1089.1 L2255.0 1089.9 L2251.3 1090.6 L2248.4 1091.2 L2246.3 1091.7 L2244.7 1092.0 L2243.4 1092.3 L2242.3 1092.6 L2241.1 1092.9 L2239.7 1093.1 L2237.8 1093.4 L2235.2 1093.8 L2231.8 1094.2 L2227.6 1094.8 L2222.9 1095.4 L2217.6 1096.0 L2212.0 1096.7 L2206.1 1097.4 L2200.1 1098.1 L2194.0 1098.7 L2188.0 1099.4 L2182.2 1099.9 L2176.6 1100.4 L2171.5 1100.8 L2166.8 1101.0 L2162.4 1101.2 L2158.1 1101.2 L2153.9 1101.1 L2149.8 1101.0 L2145.9 1100.8 L2142.2 1100.5 L2138.7 1100.2 L2135.5 1100.0 L2132.5 1099.7 L2129.9 1099.5 L2127.6 1099.3 L2125.7 1099.2 Z" fill="#6b6b6b" stroke="none"/>
<g transform="translate(884.0 493.3) rotate(0.00)">
<text x="0" y="0" font-weight="bold" font-size="72.0" textLength="116.0" lengthAdjust="spacingAndGlyphs">322</text>
<text x="114.0" y="0" font-size="69.0" textLength="112.0" lengthAdjust="spacingAndGlyphs" filter="url(#thin)">cm</text>
</g>
<g transform="translate(1938.0 513.5) rotate(3.30)">
<text x="0" y="0" font-weight="bold" font-size="72.0" textLength="116.0" lengthAdjust="spacingAndGlyphs">208</text>
<text x="116.0" y="0" font-size="69.0" textLength="106.0" lengthAdjust="spacingAndGlyphs" filter="url(#thin)">cm</text>
</g>
<g transform="translate(654.0 692.5) rotate(0.00)">
<text x="0" y="0" font-weight="bold" font-size="72.0" textLength="72.0" lengthAdjust="spacingAndGlyphs">96</text>
<text x="74.0" y="0" font-size="69.0" textLength="111.0" lengthAdjust="spacingAndGlyphs" filter="url(#thin)">cm</text>
</g>
<g transform="translate(201.5 1070.0) rotate(-90.00)">
<text x="0" y="0" font-weight="bold" font-size="72.0" textLength="112.0" lengthAdjust="spacingAndGlyphs">100</text>
<text x="112.0" y="0" font-size="69.0" textLength="110.0" lengthAdjust="spacingAndGlyphs" filter="url(#thin)">cm</text>
</g>
<g transform="translate(476.5 1028.0) rotate(90.00)">
<text x="0" y="0" font-weight="bold" font-size="72.0" textLength="72.0" lengthAdjust="spacingAndGlyphs">75</text>
<text x="78.0" y="0" font-size="69.0" textLength="104.0" lengthAdjust="spacingAndGlyphs" filter="url(#thin)">cm</text>
</g>
<g transform="translate(637.0 1269.5) rotate(-6.50)">
<text x="0" y="0" font-weight="bold" font-size="72.0" textLength="74.0" lengthAdjust="spacingAndGlyphs">22</text>
<text x="74.0" y="0" font-size="69.0" textLength="114.0" lengthAdjust="spacingAndGlyphs" filter="url(#thin)">cm</text>
</g>
<g transform="translate(262.0 1401.0) rotate(25.50)">
<text x="0" y="0" font-weight="bold" font-size="72.0" textLength="100.0" lengthAdjust="spacingAndGlyphs">116</text>
<text x="100.0" y="0" font-size="69.0" textLength="110.0" lengthAdjust="spacingAndGlyphs" filter="url(#thin)">cm</text>
</g>
<g transform="translate(979.0 1081.0) rotate(-7.00)">
<text x="0" y="0" font-weight="bold" font-size="72.0" textLength="113.0" lengthAdjust="spacingAndGlyphs">178</text>
<text x="113.0" y="0" font-size="69.0" textLength="112.0" lengthAdjust="spacingAndGlyphs" filter="url(#thin)">cm</text>
</g>
<g transform="translate(1160.0 735.4) rotate(80.50)">
<text x="0" y="0" font-weight="bold" font-size="72.0" textLength="72.0" lengthAdjust="spacingAndGlyphs">68</text>
<text x="72.0" y="0" font-size="69.0" textLength="112.0" lengthAdjust="spacingAndGlyphs" filter="url(#thin)">cm</text>
</g>
<g transform="translate(1269.0 977.0) rotate(11.00)">
<text x="0" y="0" font-weight="bold" font-size="72.0" textLength="72.0" lengthAdjust="spacingAndGlyphs">75</text>
<text x="72.0" y="0" font-size="69.0" textLength="106.0" lengthAdjust="spacingAndGlyphs" filter="url(#thin)">cm</text>
</g>
<g transform="translate(1547.6 1062.0) rotate(90.00)">
<text x="0" y="0" font-weight="bold" font-size="72.0" textLength="76.0" lengthAdjust="spacingAndGlyphs">44</text>
<text x="76.0" y="0" font-size="69.0" textLength="110.0" lengthAdjust="spacingAndGlyphs" filter="url(#thin)">cm</text>
</g>
<g transform="translate(1630.0 824.0) rotate(0.00)">
<text x="0" y="0" font-weight="bold" font-size="72.0" textLength="74.0" lengthAdjust="spacingAndGlyphs">62</text>
<text x="74.0" y="0" font-size="69.0" textLength="112.0" lengthAdjust="spacingAndGlyphs" filter="url(#thin)">cm</text>
</g>
<g transform="translate(1840.5 767.0) rotate(90.00)">
<text x="0" y="0" font-weight="bold" font-size="72.0" textLength="74.0" lengthAdjust="spacingAndGlyphs">47</text>
<text x="74.0" y="0" font-size="69.0" textLength="112.0" lengthAdjust="spacingAndGlyphs" filter="url(#thin)">cm</text>
</g>
<g transform="translate(1886.0 1000.0) rotate(10.80)">
<text x="0" y="0" font-weight="bold" font-size="72.0" textLength="106.0" lengthAdjust="spacingAndGlyphs">160</text>
<text x="106.0" y="0" font-size="69.0" textLength="112.0" lengthAdjust="spacingAndGlyphs" filter="url(#thin)">cm</text>
</g>
<g transform="translate(2229.0 1052.0) rotate(-9.00)">
<text x="0" y="0" font-weight="bold" font-size="72.0" textLength="112.0" lengthAdjust="spacingAndGlyphs">122</text>
<text x="112.0" y="0" font-size="69.0" textLength="113.0" lengthAdjust="spacingAndGlyphs" filter="url(#thin)">cm</text>
</g>
<g transform="translate(2075.7 1250.3) rotate(90.00)">
<text x="0" y="0" font-weight="bold" font-size="72.0" textLength="37.0" lengthAdjust="spacingAndGlyphs">4</text>
<text x="37.0" y="0" font-size="69.0" textLength="107.0" lengthAdjust="spacingAndGlyphs" filter="url(#thin)">cm</text>
</g>
</svg></body></html>
